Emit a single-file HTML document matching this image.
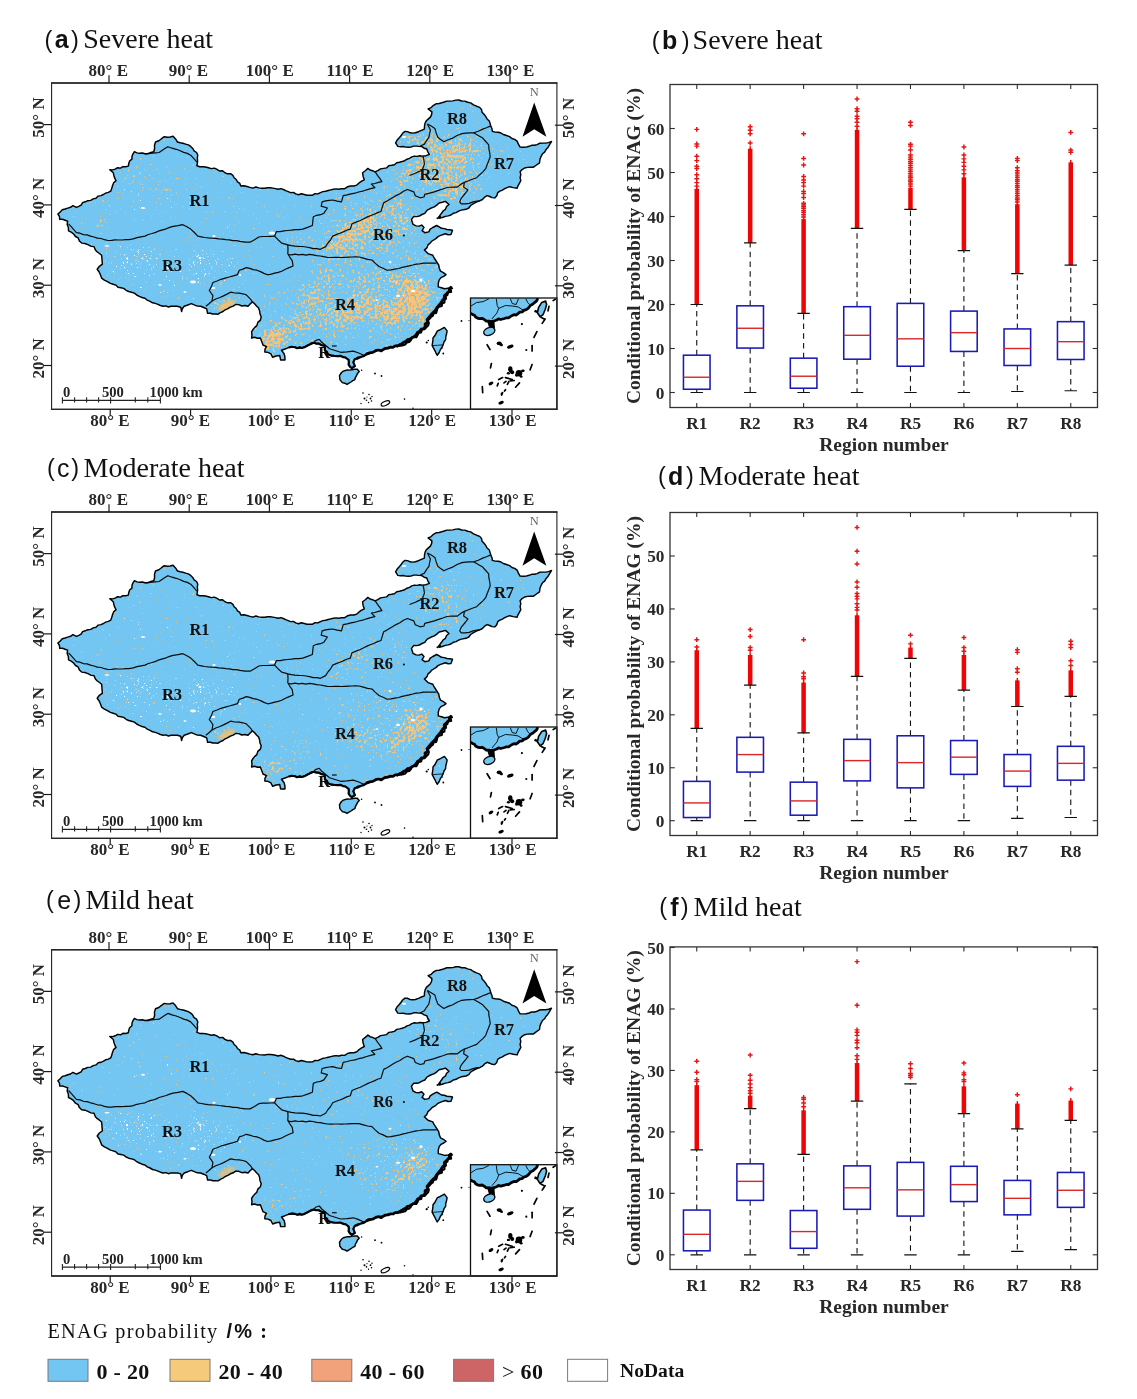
<!DOCTYPE html><html><head><meta charset="utf-8"><title>ENAG probability</title>
<style>html,body{margin:0;padding:0;background:#fff}svg{display:block;will-change:transform}</style></head><body>
<svg width="1137" height="1399" viewBox="0 0 1137 1399">
<defs><clipPath id="mapclip"><rect x="0" y="0" width="590" height="460"/></clipPath>
<clipPath id="insetclip"><rect x="470.5" y="298" width="86" height="111.5"/></clipPath>
<filter id="blur1" x="-30%" y="-30%" width="160%" height="160%"><feGaussianBlur stdDeviation="0.9"/></filter>
<filter id="blur" x="-50%" y="-50%" width="200%" height="200%"><feGaussianBlur stdDeviation="5"/></filter>
<filter id="speck" x="0" y="0" width="100%" height="100%" color-interpolation-filters="sRGB">
<feTurbulence type="fractalNoise" baseFrequency="0.36" numOctaves="3" seed="7" result="n"/>
<feColorMatrix in="n" type="matrix" values="0 0 0 0 1  0 0 0 0 1  0 0 0 0 1  0 0 0 1 0" result="na"/>
<feComposite in="na" in2="SourceGraphic" operator="arithmetic" k1="0" k2="1" k3="0.45" k4="-0.75" result="m"/>
<feComponentTransfer in="m" result="t"><feFuncA type="linear" slope="9" intercept="0"/></feComponentTransfer>
<feFlood flood-color="#f4c67c"/><feComposite in2="t" operator="in"/><feGaussianBlur stdDeviation="0.6"/>
</filter>
<filter id="speck2" x="0" y="0" width="100%" height="100%" color-interpolation-filters="sRGB">
<feTurbulence type="fractalNoise" baseFrequency="0.4" numOctaves="3" seed="23" result="n"/>
<feColorMatrix in="n" type="matrix" values="0 0 0 0 1  0 0 0 0 1  0 0 0 0 1  0 0 0 1 0" result="na"/>
<feComposite in="na" in2="SourceGraphic" operator="arithmetic" k1="0" k2="1" k3="0.30" k4="-0.88" result="m"/>
<feComponentTransfer in="m" result="t"><feFuncA type="linear" slope="9" intercept="0"/></feComponentTransfer>
<feFlood flood-color="#f1a877"/><feComposite in2="t" operator="in"/><feGaussianBlur stdDeviation="0.5"/>
</filter>
<filter id="speckw" x="0" y="0" width="100%" height="100%" color-interpolation-filters="sRGB">
<feTurbulence type="fractalNoise" baseFrequency="0.45" numOctaves="2" seed="41" result="n"/>
<feColorMatrix in="n" type="matrix" values="0 0 0 0 1  0 0 0 0 1  0 0 0 0 1  0 0 0 1 0" result="na"/>
<feComposite in="na" in2="SourceGraphic" operator="arithmetic" k1="0" k2="1" k3="0.4" k4="-0.85" result="m"/>
<feComponentTransfer in="m" result="t"><feFuncA type="linear" slope="9" intercept="0"/></feComponentTransfer>
<feFlood flood-color="#ffffff"/><feComposite in2="t" operator="in"/><feGaussianBlur stdDeviation="0.4"/>
</filter>
<g id="blw" filter="url(#blur)"><ellipse cx="170" cy="272" rx="70" ry="26" fill="#fff" fill-opacity="0.33"/><ellipse cx="130" cy="255" rx="30" ry="15" fill="#fff" fill-opacity="0.3"/><ellipse cx="215" cy="258" rx="30" ry="14" fill="#fff" fill-opacity="0.28"/><ellipse cx="150" cy="200" rx="40" ry="20" fill="#fff" fill-opacity="0.2"/><ellipse cx="400" cy="287" rx="30" ry="25" fill="#fff" fill-opacity="0.28"/><ellipse cx="330" cy="300" rx="40" ry="25" fill="#fff" fill-opacity="0.15"/><ellipse cx="250" cy="215" rx="40" ry="15" fill="#fff" fill-opacity="0.15"/><ellipse cx="440" cy="160" rx="25" ry="20" fill="#fff" fill-opacity="0.12"/></g>
<path id="cnshape" d="M57.9 214.1 L60.2 212.0 L62.3 209.7 L65.1 209.0 L67.8 208.1 L70.5 207.3 L72.9 205.7 L76.4 207.4 L78.8 206.3 L81.1 205.1 L82.6 202.6 L85.2 201.8 L87.8 200.7 L90.7 200.4 L93.2 198.9 L96.0 198.2 L98.2 196.1 L101.0 195.6 L103.4 194.5 L105.7 193.1 L108.3 192.4 L110.7 191.2 L111.7 188.6 L112.4 186.0 L113.6 182.9 L116.0 180.7 L114.7 178.2 L113.9 175.5 L113.3 172.8 L109.8 169.8 L112.6 169.9 L115.2 169.1 L117.6 167.7 L120.5 168.1 L122.9 166.6 L125.7 166.8 L128.3 166.1 L128.8 163.5 L129.6 161.0 L131.9 159.1 L132.0 156.3 L133.0 153.9 L134.4 151.7 L136.9 152.9 L139.6 153.3 L142.4 153.0 L145.0 153.8 L148.1 153.8 L150.9 152.5 L153.8 151.7 L154.6 148.5 L154.5 145.2 L155.5 142.0 L158.8 140.8 L161.5 138.7 L164.3 136.7 L167.3 137.2 L170.2 137.0 L173.1 136.2 L175.5 138.9 L177.5 142.0 L180.2 142.7 L182.9 143.3 L185.6 144.1 L188.3 144.9 L190.7 146.4 L192.7 148.4 L194.1 150.9 L196.6 152.5 L197.8 155.2 L197.3 157.8 L197.6 160.5 L197.4 163.1 L196.9 165.7 L199.7 166.7 L202.7 166.7 L205.6 167.0 L208.4 167.7 L211.3 168.6 L214.3 168.1 L217.1 169.3 L219.5 171.0 L222.6 170.7 L224.9 172.7 L227.4 173.8 L230.5 173.7 L232.9 175.4 L234.1 177.8 L236.2 179.5 L237.5 181.8 L239.8 183.4 L240.8 186.0 L244.0 185.8 L247.0 186.5 L250.0 187.4 L252.9 188.1 L255.9 187.0 L258.8 187.9 L261.7 188.2 L264.7 188.3 L267.6 187.7 L270.3 187.8 L272.9 188.1 L275.5 188.6 L278.1 189.3 L280.8 188.6 L283.4 189.5 L285.7 190.7 L288.2 191.7 L290.6 192.6 L293.5 192.4 L295.7 193.9 L298.5 194.8 L301.4 193.8 L304.2 194.5 L307.0 195.2 L309.8 195.3 L312.6 195.2 L315.0 193.7 L317.9 193.9 L320.4 192.6 L322.9 191.6 L325.6 191.2 L328.2 190.5 L330.8 189.9 L333.4 189.3 L336.1 188.9 L338.9 189.3 L341.5 188.6 L344.7 188.7 L347.5 186.8 L350.6 186.0 L353.8 186.0 L356.8 185.1 L359.1 182.9 L361.6 181.2 L364.3 179.8 L363.1 176.4 L362.6 172.8 L365.3 170.7 L367.9 168.4 L370.0 170.0 L372.6 170.7 L374.9 171.9 L377.8 170.6 L380.5 168.9 L383.7 168.4 L386.6 167.9 L388.7 165.7 L391.6 165.3 L394.4 164.7 L396.7 162.7 L399.5 162.2 L402.1 161.5 L404.7 160.7 L407.0 159.2 L409.5 158.4 L411.8 156.9 L414.4 156.1 L417.1 156.4 L419.7 155.8 L422.4 156.1 L426.0 155.7 L429.4 154.3 L427.8 151.8 L426.8 149.0 L424.1 148.2 L421.8 146.6 L418.9 146.4 L416.2 146.1 L413.5 146.1 L411.0 147.1 L408.3 147.3 L405.7 147.1 L403.1 146.5 L400.4 146.7 L397.8 146.4 L395.6 142.9 L397.0 140.3 L399.0 138.1 L400.9 135.8 L402.6 133.3 L405.0 131.4 L407.6 131.6 L410.1 132.8 L412.7 133.1 L415.4 132.8 L418.5 131.7 L421.4 130.3 L424.4 129.1 L424.5 126.1 L425.1 123.1 L426.4 120.7 L428.4 118.9 L430.4 117.1 L431.6 114.6 L431.9 111.9 L428.1 108.9 L431.2 107.6 L433.5 105.3 L436.4 103.7 L439.1 103.5 L441.7 102.8 L444.3 102.0 L446.8 101.1 L449.8 101.1 L452.8 100.9 L455.8 100.1 L458.8 100.0 L461.7 101.0 L464.8 101.1 L467.7 102.2 L470.7 102.9 L473.5 104.8 L476.6 106.2 L479.7 107.4 L481.5 109.5 L482.1 112.3 L484.0 114.3 L485.7 116.4 L487.1 119.0 L489.3 121.0 L490.2 123.9 L490.9 126.4 L492.0 128.8 L492.4 131.4 L495.1 132.1 L497.9 132.3 L500.6 132.8 L503.4 134.5 L506.5 135.5 L509.6 136.6 L511.9 138.5 L514.7 139.4 L517.1 141.1 L518.4 144.2 L520.1 147.1 L523.1 147.2 L526.1 147.1 L529.1 146.3 L531.6 145.3 L534.4 145.3 L537.1 144.6 L539.5 143.3 L542.5 143.1 L545.6 143.1 L548.6 142.6 L551.5 141.5 L549.6 144.6 L547.7 147.8 L545.9 149.8 L544.6 152.1 L542.5 153.8 L541.0 156.6 L539.9 159.6 L539.5 162.8 L536.5 165.0 L533.5 167.2 L530.5 167.2 L527.5 167.4 L524.6 168.0 L522.1 169.6 L520.1 171.7 L520.8 174.7 L520.1 177.7 L520.8 180.7 L519.5 183.1 L518.1 185.6 L517.1 188.2 L513.3 187.6 L509.6 186.7 L507.1 187.7 L504.7 188.7 L502.4 190.1 L499.9 191.2 L497.7 192.7 L496.8 195.7 L494.7 197.9 L492.1 197.6 L489.7 196.5 L487.2 195.6 L484.6 197.2 L482.4 199.5 L479.7 200.9 L476.3 202.1 L473.1 203.8 L470.6 205.5 L468.8 208.0 L466.0 209.3 L461.3 210.1 L458.6 211.2 L456.1 212.6 L453.3 213.3 L450.9 215.0 L448.2 215.9 L445.4 216.4 L442.3 217.5 L439.1 218.0 L439.9 215.4 L441.5 213.3 L443.1 211.0 L445.4 209.3 L446.6 206.5 L449.0 204.5 L445.4 201.4 L442.3 202.3 L439.1 203.0 L436.8 205.1 L434.3 206.9 L430.7 208.3 L427.2 210.1 L424.8 213.3 L422.0 214.5 L419.3 216.0 L416.6 216.6 L413.8 216.4 L411.4 219.6 L413.0 224.3 L416.1 225.9 L419.0 226.1 L421.7 225.1 L424.0 227.5 L422.1 230.7 L424.8 232.7 L428.8 231.9 L430.2 229.2 L432.8 227.5 L436.7 225.5 L439.2 226.8 L441.5 228.3 L444.3 228.6 L447.0 229.5 L449.8 229.8 L452.5 230.3 L451.0 234.6 L448.1 234.8 L445.4 233.8 L440.7 235.4 L438.0 236.6 L435.9 238.6 L432.0 241.0 L430.1 243.1 L428.0 244.9 L426.8 247.9 L424.4 250.1 L428.0 253.6 L432.8 255.2 L434.0 257.7 L435.5 260.0 L437.0 262.3 L438.7 265.0 L439.3 268.2 L440.5 271.1 L443.4 272.6 L446.0 274.6 L443.7 276.3 L441.0 277.6 L439.2 279.9 L438.3 283.3 L438.3 286.9 L441.4 287.7 L444.4 288.7 L448.1 288.3 L451.5 286.9 L449.6 289.1 L448.1 291.8 L446.2 294.0 L444.9 297.2 L442.5 299.8 L440.9 302.8 L439.1 305.1 L436.8 307.1 L435.6 309.8 L433.3 311.3 L432.0 313.6 L430.5 315.9 L428.6 317.7 L426.9 320.4 L427.0 323.8 L425.1 326.5 L423.3 328.9 L420.6 330.4 L418.4 332.3 L416.3 334.4 L413.9 336.6 L410.9 337.8 L408.0 339.2 L405.7 341.5 L403.1 342.8 L400.5 343.8 L398.0 345.2 L395.2 345.9 L392.3 347.1 L389.0 347.0 L386.3 348.8 L383.2 349.5 L380.3 349.6 L377.7 350.4 L375.1 351.6 L372.5 352.5 L369.3 353.9 L365.9 354.7 L361.3 356.7 L357.9 357.2 L354.9 359.0 L353.3 362.2 L354.9 366.2 L351.8 368.2 L348.6 364.6 L348.6 359.8 L345.4 357.5 L340.7 355.9 L337.5 355.9 L334.3 355.9 L331.1 355.2 L328.0 354.3 L324.8 350.3 L324.8 345.7 L322.0 345.2 L319.5 343.5 L316.5 343.5 L313.8 342.8 L311.5 344.1 L309.0 344.8 L305.5 346.4 L301.9 348.0 L298.4 348.2 L295.0 347.2 L291.7 347.2 L288.5 347.6 L285.0 349.0 L281.5 350.3 L284.1 353.8 L284.9 356.8 L285.0 359.9 L280.6 359.9 L279.7 355.5 L276.1 356.0 L272.7 357.3 L270.9 353.8 L268.0 352.4 L264.8 352.0 L265.0 349.1 L266.5 346.7 L263.0 345.0 L261.7 341.5 L260.4 338.0 L257.5 338.3 L254.5 337.3 L251.6 338.0 L252.0 334.9 L251.6 331.8 L253.0 329.5 L254.8 327.4 L256.8 325.6 L257.8 322.4 L260.4 320.1 L261.2 316.8 L260.0 314.0 L259.6 310.9 L258.6 308.0 L256.5 306.0 L254.6 303.8 L252.4 301.9 L250.1 304.0 L248.0 306.3 L245.0 305.5 L241.8 306.0 L238.8 304.6 L235.7 304.5 L233.2 306.1 L230.4 307.1 L227.9 308.7 L225.2 309.8 L223.0 311.5 L220.4 312.7 L218.1 314.2 L215.5 314.0 L212.8 314.0 L210.3 313.2 L207.6 313.3 L206.7 308.9 L203.7 307.5 L200.6 306.3 L197.3 306.1 L194.3 304.9 L191.3 303.6 L187.8 305.0 L184.2 306.3 L182.3 308.7 L181.6 311.6 L180.7 307.2 L177.3 306.2 L173.7 306.3 L171.0 306.2 L168.4 307.0 L165.8 305.9 L163.1 306.3 L160.4 305.5 L157.9 304.4 L155.3 303.4 L152.6 302.8 L150.0 301.3 L147.3 300.2 L144.9 298.3 L142.0 297.5 L139.3 296.3 L136.7 295.0 L134.4 293.1 L131.5 292.2 L128.7 291.5 L126.1 290.3 L123.7 288.4 L120.9 287.8 L118.0 287.3 L115.8 285.1 L113.1 284.2 L110.4 283.4 L107.4 281.7 L104.4 280.1 L101.6 278.1 L100.5 275.0 L99.2 272.0 L97.2 269.3 L99.4 266.3 L102.4 264.1 L102.1 261.2 L101.9 258.2 L101.6 255.3 L99.5 253.5 L97.3 252.0 L95.4 250.0 L94.0 246.6 L90.8 246.2 L87.9 244.7 L84.9 243.5 L81.7 243.1 L79.4 240.9 L78.1 237.9 L75.5 236.5 L73.6 234.0 L71.2 232.2 L68.5 230.8 L68.4 227.5 L67.2 224.4 L67.6 221.1 L65.0 220.2 L62.5 219.3 L59.7 219.4 L59.5 216.5Z M339.5 375.7 L341.5 372.5 L343.3 371.1 L345.4 370.5 L347.5 369.9 L349.7 370.1 L351.8 369.7 L354.5 369.2 L357.3 369.3 L359.2 371.5 L357.5 373.4 L356.5 375.7 L355.4 377.5 L354.9 379.6 L352.8 380.6 L351.0 382.0 L349.0 383.2 L347.0 384.4 L344.8 383.2 L342.3 382.6 L339.9 379.6Z M437.2 355.2 L435.9 352.8 L434.7 350.3 L433.4 347.9 L432.1 345.5 L432.5 343.0 L432.9 340.5 L433.0 338.0 L434.8 335.8 L436.1 333.3 L437.4 330.9 L439.8 330.0 L442.1 328.6 L444.4 327.4 L447.1 330.9 L446.6 333.8 L445.8 336.7 L445.6 339.7 L444.0 342.0 L443.1 344.7 L442.0 347.2 L440.3 349.8 L439.1 352.7Z"/>
<clipPath id="cn"><use href="#cnshape"/></clipPath>
<g id="cnlines"><g fill="none" stroke="#0a0a0a" stroke-width="1.2" stroke-linejoin="round"><path d="M68.5 223.8 L71.2 226.7 L73.8 229.6 L76.4 232.6 L80.0 233.2 L83.4 234.6 L87.1 234.9 L90.5 236.1 L94.0 237.0 L97.4 238.1 L101.1 238.5 L104.5 239.7 L108.0 240.5 L111.5 240.4 L115.1 239.9 L118.6 240.0 L122.1 240.0 L125.7 239.7 L129.2 239.6 L133.2 238.9 L137.0 237.6 L141.0 236.8 L145.0 236.1 L148.4 234.5 L152.1 233.5 L155.7 232.4 L159.1 230.8 L162.6 229.8 L166.2 228.8 L169.6 227.4 L173.1 226.4 L178.0 225.7 L182.8 224.7 L186.9 226.7 L190.7 229.1 L194.4 232.5 L197.8 236.1 L201.3 236.8 L204.8 237.5 L208.3 237.9 L211.8 238.2 L215.4 238.3 L218.9 238.8 L222.4 239.1 L225.9 239.6 L229.4 239.9 L232.9 240.7 L236.5 240.7 L240.0 241.4 L245.0 242.1 L250.0 242.2 L254.5 239.8 L258.8 237.0 L262.7 236.5 L266.7 236.5 L270.6 236.3 L274.6 236.1"/><path d="M375.4 172.2 L377.5 175.4 L379.8 178.4 L381.9 181.6 L378.4 182.4 L374.9 183.5 L371.4 184.2 L374.9 187.7 L370.7 188.7 L366.6 189.8 L362.6 191.2 L358.7 192.0 L354.9 193.2 L351.0 193.8 L347.1 194.8 L343.2 195.6 L341.5 201.8 L337.1 201.1 L332.7 200.0 L329.1 200.3 L325.6 200.9 L322.1 201.8 L321.2 206.2 L327.4 208.0 L323.9 213.2 L320.5 214.7 L316.8 215.3 L313.3 216.7 L312.8 221.1 L312.4 225.5 L307.6 227.4 L302.8 229.1 L299.0 229.6 L295.2 229.7 L291.5 230.2 L287.7 230.5 L283.9 230.8 L280.2 231.6 L276.4 231.7 L274.6 236.1 L278.0 239.7 L281.7 243.1 L287.8 244.9 L291.4 245.7 L295.0 246.2 L298.7 246.4 L302.3 246.5 L306.0 247.0 L309.6 247.6 L313.1 248.6 L316.8 248.7 L320.4 249.3 L325.6 246.6 L327.9 243.0 L330.6 239.8 L332.7 236.1 L336.2 234.6 L339.8 233.3 L343.2 231.9 L346.7 230.2 L350.3 229.1 L352.0 223.8 L356.1 222.1 L360.3 220.5 L364.3 218.5 L367.5 216.9 L370.9 215.5 L374.3 214.2 L377.5 212.6 L381.0 211.5 L382.3 207.1 L383.7 202.7 L386.9 201.1 L389.9 199.2 L392.9 197.4 L396.0 195.6 L399.9 193.8 L403.5 191.3 L407.4 189.5 L413.8 191.9 L415.3 195.8 L420.1 197.8 L424.0 197.0 L424.8 194.3 L429.6 193.1 L434.3 191.9 L438.5 190.4 L442.8 189.0 L447.0 187.5 L452.1 187.0 L457.3 187.1 L461.3 184.0 L464.4 182.4"/><path d="M473.7 132.8 L478.2 135.4 L482.7 138.1 L485.7 141.5 L488.7 144.8 L488.9 148.8 L489.7 152.8 L490.2 156.8 L488.7 160.8 L487.1 164.7 L485.7 168.7 L482.9 171.9 L479.7 174.7 L476.7 177.7 L472.3 179.3 L468.0 181.0 L464.4 182.4 L463.6 187.1 L468.0 189.9 L465.2 193.5 L461.3 198.2 L459.7 201.8 L461.3 203.8 L465.3 203.8 L469.2 203.4 L473.1 201.9 L477.1 201.0 L479.7 200.9"/><path d="M427.4 123.9 L431.2 126.1 L434.9 128.4 L436.2 132.9 L437.8 137.3 L440.7 139.6 L443.8 141.8 L448.2 139.7 L452.8 138.1 L457.1 135.5 L461.8 133.6 L465.8 133.2 L469.7 132.9 L473.7 132.8 L478.3 131.2 L482.7 129.1 L486.5 127.7 L490.2 126.1"/><path d="M287.8 244.9 L288.0 249.3 L287.8 253.7 L289.9 257.3 L292.2 260.7 L293.1 266.0 L289.2 267.6 L285.4 269.3 L281.7 271.3 L278.2 272.4 L274.7 273.2 L271.2 274.2 L267.6 274.8 L263.9 273.4 L260.5 271.6 L256.8 270.2 L253.2 269.6 L249.8 268.4 L246.3 267.6 L242.9 269.1 L239.3 270.2 L237.5 274.6 L233.4 275.9 L229.3 277.0 L225.2 278.1 L221.0 279.3 L217.0 281.0 L212.9 282.5 L211.4 286.6 L209.3 290.5 L212.9 295.7 L212.0 301.0 L209.0 303.8 L205.8 306.3"/><path d="M212.0 301.0 L215.8 299.0 L219.9 297.5 L223.5 295.9 L227.0 294.1 L230.5 292.2 L234.9 293.0 L239.3 293.1 L242.8 293.8 L246.3 294.9 L250.7 299.3 L252.4 301.9"/><path d="M288.0 254.5 L291.6 254.9 L295.1 254.2 L298.7 254.8 L302.3 254.4 L305.9 255.1 L309.4 254.4 L313.0 254.8 L316.6 255.6 L320.2 256.0 L323.8 256.7 L327.3 257.3 L331.0 257.5 L334.5 257.3 L338.0 257.3 L341.5 257.5 L345.0 257.3 L348.5 257.1 L352.0 257.0 L355.5 256.9 L359.0 257.0 L363.3 258.2 L367.6 259.3 L372.0 260.0 L375.4 263.4 L379.0 266.5 L383.1 268.2 L387.0 270.2 L390.9 269.9 L394.8 269.1 L398.7 268.5 L402.2 267.4 L405.7 266.7 L409.3 265.8 L412.8 265.0 L416.3 264.1 L419.8 263.8 L423.3 263.2 L427.7 263.1 L432.1 263.2 L436.5 263.2"/><path d="M145.0 153.8 L148.5 153.4 L152.0 153.1 L155.6 152.8 L159.1 152.5 L162.0 150.5 L164.9 148.6 L167.9 146.7 L172.0 148.2 L176.2 149.3 L180.2 150.8 L183.7 152.4 L187.3 153.4 L190.7 155.2 L193.9 158.6 L196.9 162.2"/><path d="M427.4 123.9 L430.4 129.9 L429.6 133.6 L428.9 137.3 L426.5 140.6 L424.4 144.1 L419.9 146.3"/><path d="M422.9 156.0 L423.9 160.1 L424.4 164.2 L422.1 170.2 L418.7 171.6 L415.4 173.2 L409.4 175.5"/><path d="M324.8 344.8 L329.6 348.8 L334.3 350.3 L340.7 352.3 L347.0 351.9 L353.3 351.1 L358.1 352.7 L364.4 355.5"/><path d="M313.8 342.8 L315.4 340.6 L319.3 339.3 L321.8 342.3 L324.8 344.8"/><path d="M332.0 346.0 L336.7 346.0"/></g><use href="#cnshape" fill="none" stroke="#000" stroke-width="1.45" stroke-linejoin="round"/><path d="M451.5 286.9 L449.6 288.3 L449.2 290.7 L448.0 292.6 L446.2 294.0 L444.3 295.8 L444.3 298.8 L442.3 300.6 L440.9 302.8 L439.0 305.1 L437.2 307.3 L435.6 309.8 L434.4 312.3 L431.9 313.6 L430.3 315.7 L428.6 317.7 L427.0 319.6 L427.8 322.5 L425.0 323.9 L425.1 326.5 L423.8 328.6 L421.1 329.1 L419.8 331.2 L417.6 332.3 L416.3 334.4 L414.6 336.4 L412.3 337.6 L410.4 339.4 L407.5 339.6 L405.7 341.5 L403.6 342.3 L401.8 343.9 L399.7 344.8 L397.7 345.9 L395.2 345.9 L393.0 347.3 L390.4 347.2 L388.0 348.2 L385.5 348.3 L383.2 349.5 L381.3 351.0 L378.7 350.0 L376.5 350.3 L374.5 351.4 L372.5 352.5 L370.1 352.7 L367.9 353.2 L365.9 354.7" fill="none" stroke="#000" stroke-width="2.7" stroke-linejoin="round"/><path d="M451.5 286.9 L449.4 288.1 L449.9 291.2 L446.4 291.4 L446.2 294.0 L444.5 295.4 L444.7 297.9 L443.2 299.4 L443.2 301.8 L440.9 302.8 L440.5 305.2 L437.9 306.0 L436.2 307.5 L435.6 309.8 L434.9 312.0 L432.3 312.5 L431.7 314.8 L429.9 316.0 L428.6 317.7 L426.7 319.5 L427.6 322.4 L426.9 324.7 L425.1 326.5 L423.5 328.3 L420.6 328.5 L420.0 331.5 L417.3 332.0 L416.3 334.4 L415.1 336.4 L412.3 336.1 L410.4 337.0 L409.5 339.5 L408.0 341.1 L405.7 341.5 L404.1 343.6 L401.9 344.3 L399.7 344.8 L397.2 344.7 L395.2 345.9" fill="none" stroke="#000" stroke-width="2.2" stroke-linejoin="round" transform="translate(1.2,0.8)"/><path d="M365.9 354.7 L363.8 356.2 L361.3 356.7 L359.2 357.7 L357.2 358.7 L354.9 359.0 L353.3 362.2 L354.9 366.2 L351.8 368.2 L349.9 366.7 L348.6 364.6 L348.9 362.2 L348.6 359.8 L345.4 357.5 L342.9 357.2 L340.7 355.9 L337.5 356.1 L334.3 355.9 L331.0 355.6 L328.0 354.3 L327.0 351.8 L324.8 350.3 L324.8 348.0 L324.8 345.7 L322.5 345.4 L320.4 344.7 L318.3 343.5 L315.9 343.6 L313.8 342.8 L311.2 343.3 L309.0 344.8 L306.7 346.0 L304.4 347.3 L301.9 348.0 L299.7 347.1 L297.2 348.2 L295.0 347.2 L291.7 346.7 L288.5 347.6" fill="none" stroke="#000" stroke-width="2.1" stroke-linejoin="round"/></g>
<g id="whites"><ellipse cx="272" cy="233" rx="3.2" ry="1.6" fill="#fff"/><ellipse cx="193" cy="282" rx="3" ry="1.4" fill="#fff"/><ellipse cx="168" cy="268" rx="1.6" ry="1" fill="#fff"/><ellipse cx="107" cy="246" rx="2.6" ry="0.8" fill="#fff"/><ellipse cx="404" cy="137" rx="2.2" ry="1" fill="#fff"/><ellipse cx="214" cy="236" rx="1.6" ry="1" fill="#fff"/><ellipse cx="413" cy="291" rx="2" ry="1.2" fill="#fff"/><ellipse cx="398" cy="296" rx="2.4" ry="1" fill="#fff"/><ellipse cx="421" cy="280" rx="1.6" ry="1.4" fill="#fff"/><ellipse cx="200" cy="258" rx="1.5" ry="1" fill="#fff"/><ellipse cx="143" cy="208" rx="2" ry="1" fill="#fff"/><ellipse cx="213" cy="288" rx="2.5" ry="1" fill="#fff"/><ellipse cx="377" cy="300" rx="1.5" ry="0.8" fill="#fff"/><ellipse cx="390" cy="262" rx="1.5" ry="1" fill="#fff"/><ellipse cx="240" cy="275" rx="1.2" ry="1" fill="#fff"/><ellipse cx="160" cy="285" rx="2" ry="0.8" fill="#fff"/><ellipse cx="185" cy="292" rx="1.6" ry="0.8" fill="#fff"/></g>
<g id="bla" filter="url(#blur)"><ellipse cx="385" cy="285" rx="80" ry="60" transform="rotate(0 385 285)" fill="#fff" fill-opacity="0.209"/><ellipse cx="445" cy="165" rx="45" ry="38" transform="rotate(0 445 165)" fill="#fff" fill-opacity="0.247"/><ellipse cx="365" cy="225" rx="60" ry="30" transform="rotate(-25 365 225)" fill="#fff" fill-opacity="0.228"/><ellipse cx="300" cy="320" rx="50" ry="35" transform="rotate(0 300 320)" fill="#fff" fill-opacity="0.190"/><ellipse cx="140" cy="190" rx="60" ry="30" transform="rotate(0 140 190)" fill="#fff" fill-opacity="0.076"/><ellipse cx="442" cy="166" rx="26" ry="22" transform="rotate(0 442 166)" fill="#fff" fill-opacity="0.494"/><ellipse cx="462" cy="150" rx="16" ry="14" transform="rotate(0 462 150)" fill="#fff" fill-opacity="0.380"/><ellipse cx="405" cy="176" rx="18" ry="8" transform="rotate(-25 405 176)" fill="#fff" fill-opacity="0.475"/><ellipse cx="452" cy="192" rx="14" ry="6" transform="rotate(-20 452 192)" fill="#fff" fill-opacity="0.665"/><ellipse cx="470" cy="186" rx="8" ry="6" transform="rotate(0 470 186)" fill="#fff" fill-opacity="0.427"/><ellipse cx="360" cy="226" rx="26" ry="9" transform="rotate(-28 360 226)" fill="#fff" fill-opacity="0.665"/><ellipse cx="338" cy="242" rx="16" ry="7" transform="rotate(-25 338 242)" fill="#fff" fill-opacity="0.570"/><ellipse cx="392" cy="207" rx="14" ry="8" transform="rotate(-30 392 207)" fill="#fff" fill-opacity="0.427"/><ellipse cx="404" cy="222" rx="10" ry="7" transform="rotate(0 404 222)" fill="#fff" fill-opacity="0.617"/><ellipse cx="348" cy="248" rx="14" ry="5" transform="rotate(0 348 248)" fill="#fff" fill-opacity="0.380"/><ellipse cx="416" cy="296" rx="15" ry="16" transform="rotate(0 416 296)" fill="#fff" fill-opacity="0.950"/><ellipse cx="396" cy="312" rx="18" ry="12" transform="rotate(-20 396 312)" fill="#fff" fill-opacity="0.760"/><ellipse cx="366" cy="306" rx="22" ry="14" transform="rotate(0 366 306)" fill="#fff" fill-opacity="0.570"/><ellipse cx="340" cy="318" rx="22" ry="10" transform="rotate(0 340 318)" fill="#fff" fill-opacity="0.475"/><ellipse cx="420" cy="318" rx="8" ry="10" transform="rotate(0 420 318)" fill="#fff" fill-opacity="0.570"/><ellipse cx="275" cy="338" rx="12" ry="12" transform="rotate(0 275 338)" fill="#fff" fill-opacity="0.902"/><ellipse cx="262" cy="345" rx="6" ry="6" transform="rotate(0 262 345)" fill="#fff" fill-opacity="0.855"/><ellipse cx="300" cy="322" rx="16" ry="10" transform="rotate(0 300 322)" fill="#fff" fill-opacity="0.522"/><ellipse cx="312" cy="300" rx="14" ry="12" transform="rotate(0 312 300)" fill="#fff" fill-opacity="0.380"/><ellipse cx="400" cy="280" rx="12" ry="10" transform="rotate(0 400 280)" fill="#fff" fill-opacity="0.475"/><ellipse cx="224" cy="305" rx="12" ry="5" transform="rotate(-25 224 305)" fill="#fff" fill-opacity="0.950"/><ellipse cx="370" cy="280" rx="20" ry="10" transform="rotate(0 370 280)" fill="#fff" fill-opacity="0.332"/><ellipse cx="330" cy="280" rx="16" ry="10" transform="rotate(0 330 280)" fill="#fff" fill-opacity="0.285"/><ellipse cx="430" cy="140" rx="12" ry="10" transform="rotate(0 430 140)" fill="#fff" fill-opacity="0.427"/><ellipse cx="410" cy="140" rx="10" ry="5" transform="rotate(-20 410 140)" fill="#fff" fill-opacity="0.570"/><ellipse cx="102" cy="222" rx="5" ry="7" transform="rotate(0 102 222)" fill="#fff" fill-opacity="0.475"/><ellipse cx="130" cy="182" rx="12" ry="8" transform="rotate(0 130 182)" fill="#fff" fill-opacity="0.237"/><ellipse cx="160" cy="190" rx="14" ry="10" transform="rotate(0 160 190)" fill="#fff" fill-opacity="0.190"/><ellipse cx="120" cy="160" rx="8" ry="5" transform="rotate(0 120 160)" fill="#fff" fill-opacity="0.285"/><ellipse cx="300" cy="240" rx="16" ry="5" transform="rotate(0 300 240)" fill="#fff" fill-opacity="0.285"/><ellipse cx="420" cy="262" rx="10" ry="6" transform="rotate(0 420 262)" fill="#fff" fill-opacity="0.380"/><ellipse cx="385" cy="240" rx="14" ry="8" transform="rotate(0 385 240)" fill="#fff" fill-opacity="0.332"/><ellipse cx="500" cy="150" rx="14" ry="10" transform="rotate(0 500 150)" fill="#fff" fill-opacity="0.190"/><ellipse cx="455" cy="120" rx="14" ry="8" transform="rotate(0 455 120)" fill="#fff" fill-opacity="0.190"/></g>
<g id="blc" filter="url(#blur)"><ellipse cx="390" cy="295" rx="60" ry="40" transform="rotate(0 390 295)" fill="#fff" fill-opacity="0.209"/><ellipse cx="445" cy="168" rx="35" ry="28" transform="rotate(0 445 168)" fill="#fff" fill-opacity="0.142"/><ellipse cx="365" cy="228" rx="45" ry="18" transform="rotate(-25 365 228)" fill="#fff" fill-opacity="0.142"/><ellipse cx="290" cy="325" rx="35" ry="25" transform="rotate(0 290 325)" fill="#fff" fill-opacity="0.114"/><ellipse cx="416" cy="296" rx="13" ry="13" transform="rotate(0 416 296)" fill="#fff" fill-opacity="0.760"/><ellipse cx="398" cy="312" rx="15" ry="9" transform="rotate(-20 398 312)" fill="#fff" fill-opacity="0.522"/><ellipse cx="366" cy="308" rx="16" ry="9" transform="rotate(0 366 308)" fill="#fff" fill-opacity="0.332"/><ellipse cx="275" cy="338" rx="9" ry="9" transform="rotate(0 275 338)" fill="#fff" fill-opacity="0.570"/><ellipse cx="262" cy="345" rx="5" ry="5" transform="rotate(0 262 345)" fill="#fff" fill-opacity="0.570"/><ellipse cx="224" cy="305" rx="10" ry="4" transform="rotate(-25 224 305)" fill="#fff" fill-opacity="0.855"/><ellipse cx="445" cy="168" rx="16" ry="12" transform="rotate(0 445 168)" fill="#fff" fill-opacity="0.332"/><ellipse cx="452" cy="192" rx="10" ry="4" transform="rotate(-20 452 192)" fill="#fff" fill-opacity="0.427"/><ellipse cx="358" cy="228" rx="16" ry="6" transform="rotate(-28 358 228)" fill="#fff" fill-opacity="0.380"/><ellipse cx="404" cy="222" rx="7" ry="5" transform="rotate(0 404 222)" fill="#fff" fill-opacity="0.380"/><ellipse cx="340" cy="243" rx="10" ry="4" transform="rotate(-25 340 243)" fill="#fff" fill-opacity="0.285"/><ellipse cx="300" cy="322" rx="10" ry="6" transform="rotate(0 300 322)" fill="#fff" fill-opacity="0.285"/><ellipse cx="406" cy="176" rx="10" ry="5" transform="rotate(-25 406 176)" fill="#fff" fill-opacity="0.237"/><ellipse cx="102" cy="222" rx="3" ry="5" transform="rotate(0 102 222)" fill="#fff" fill-opacity="0.285"/><ellipse cx="388" cy="238" rx="8" ry="5" transform="rotate(0 388 238)" fill="#fff" fill-opacity="0.190"/></g>
<g id="ble" filter="url(#blur)"><ellipse cx="395" cy="298" rx="50" ry="32" transform="rotate(0 395 298)" fill="#fff" fill-opacity="0.171"/><ellipse cx="445" cy="170" rx="30" ry="22" transform="rotate(0 445 170)" fill="#fff" fill-opacity="0.076"/><ellipse cx="365" cy="230" rx="40" ry="14" transform="rotate(-25 365 230)" fill="#fff" fill-opacity="0.076"/><ellipse cx="285" cy="330" rx="30" ry="20" transform="rotate(0 285 330)" fill="#fff" fill-opacity="0.076"/><ellipse cx="416" cy="296" rx="12" ry="11" transform="rotate(0 416 296)" fill="#fff" fill-opacity="0.570"/><ellipse cx="400" cy="312" rx="14" ry="8" transform="rotate(-20 400 312)" fill="#fff" fill-opacity="0.380"/><ellipse cx="366" cy="310" rx="12" ry="7" transform="rotate(0 366 310)" fill="#fff" fill-opacity="0.190"/><ellipse cx="275" cy="338" rx="7" ry="7" transform="rotate(0 275 338)" fill="#fff" fill-opacity="0.332"/><ellipse cx="224" cy="305" rx="9" ry="4" transform="rotate(-25 224 305)" fill="#fff" fill-opacity="0.760"/><ellipse cx="448" cy="170" rx="12" ry="9" transform="rotate(0 448 170)" fill="#fff" fill-opacity="0.190"/><ellipse cx="452" cy="192" rx="8" ry="3" transform="rotate(-20 452 192)" fill="#fff" fill-opacity="0.285"/><ellipse cx="360" cy="228" rx="12" ry="5" transform="rotate(-28 360 228)" fill="#fff" fill-opacity="0.190"/><ellipse cx="270" cy="345" rx="5" ry="5" transform="rotate(0 270 345)" fill="#fff" fill-opacity="0.285"/><ellipse cx="300" cy="324" rx="8" ry="5" transform="rotate(0 300 324)" fill="#fff" fill-opacity="0.190"/></g></defs>
<rect width="1137" height="1399" fill="#fff"/>
<g transform="translate(0,0)" clip-path="url(#mapclip)">
<text x="324.3" y="357.6" font-family='"Liberation Serif", serif' font-weight="bold" font-size="16.5" fill="#111" text-anchor="middle">R</text>
<use href="#cnshape" fill="#72c6f1"/>
<g clip-path="url(#cn)">
<g filter="url(#speck)"><rect x="40" y="90" width="530" height="310" fill="#fff" fill-opacity="0.02"/><use href="#bla"/></g>
<g filter="url(#speck2)"><rect x="40" y="90" width="530" height="310" fill="#fff" fill-opacity="0.02"/><use href="#bla"/></g>
<ellipse cx="226.5" cy="305.3" rx="9.5" ry="3.3" transform="rotate(-27 226.5 305.3)" fill="#f2c06e" opacity="0.95" filter="url(#blur1)"/>
<g filter="url(#speckw)"><rect x="40" y="90" width="530" height="310" fill="#fff" fill-opacity="0.02"/><use href="#blw"/></g>
<use href="#whites"/>
</g>
<use href="#cnlines"/>
<g fill="#000"><circle cx="403.9" cy="235.4" r="1"/><circle cx="439.6" cy="217.2" r="1.6"/><circle cx="437.5" cy="218.2" r="1"/><circle cx="375" cy="373.5" r="0.9"/><circle cx="381.5" cy="376" r="0.9"/><circle cx="404.5" cy="399.1" r="0.8"/><circle cx="413" cy="408.3" r="0.8"/><circle cx="443.3" cy="353.5" r="0.9"/><circle cx="442.6" cy="348" r="0.6"/><circle cx="426.7" cy="342.5" r="1.1"/><circle cx="428.3" cy="340.5" r="0.8"/><circle cx="461.5" cy="321" r="0.9"/><circle cx="469" cy="320.6" r="0.6"/><circle cx="361.6" cy="370.3" r="0.8"/><circle cx="363" cy="393" r="0.8"/><circle cx="369" cy="394.5" r="0.8"/><circle cx="364.5" cy="398.5" r="1"/><circle cx="366.5" cy="400.2" r="0.8"/><circle cx="370.5" cy="398.5" r="0.9"/><circle cx="372" cy="396.5" r="0.7"/><circle cx="368.5" cy="402.5" r="0.7"/><circle cx="361" cy="403.5" r="0.7"/><circle cx="371.5" cy="401" r="0.8"/><circle cx="367" cy="397" r="0.6"/></g>
<ellipse cx="385.4" cy="403.4" rx="4.6" ry="2" transform="rotate(-24 385.4 403.4)" fill="#fff" stroke="#000" stroke-width="1.2"/>
<path d="M432.6 345.6L444 344.8" stroke="#000" stroke-width="0.8" fill="none"/>
<g clip-path="url(#insetclip)">
<path d="M469.7 297.7 L537.4 297.7 L534.5 302.6 L529.7 306.4 L523.9 310.3 L518.0 313.7 L510.3 316.6 L502.6 319.0 L496.8 320.0 L493.4 321.2 L489.0 321.2 L484.2 319.5 L477.4 318.1 L474.5 315.2 L469.7 312.7Z" fill="#72c6f1"/>
<g fill="none" stroke="#000" stroke-width="0.9">
<path d="M496.3 298.7 L497.2 305.5 L498.7 308.4 L496.8 313.2 L491.9 319.0"/>
<path d="M498.7 308.4 L505.5 305.5 L512.2 306.0 L518.0 306.9 L521.9 309.3 L524.3 310.1"/>
<path d="M510.3 298.7 L512.2 303.5 L516.1 304.5 L518.5 298.7"/>
<path d="M470.4 306.4 L476.4 302.6 L483.2 301.6 L489.0 298.7"/>
<path d="M525.8 298.7 L527.7 302.6 L530.6 305.5"/>
</g>
<path d="M537.4 297.7 L537.2 299.8 L536.1 301.3 L534.5 302.6 L533.0 304.0 L531.1 304.9 L529.7 306.4 L528.1 308.3 L526.2 309.6 L523.9 310.3 L522.2 311.9 L519.8 312.2 L518.0 313.7 L516.3 315.0 L514.0 314.7 L512.1 315.6 L510.3 316.6 L508.6 317.8 L506.4 317.8 L504.5 318.5 L502.6 319.0 L500.7 319.5 L498.6 318.8 L496.8 320.0 L493.4 321.2 L491.2 321.9 L489.0 321.2 L486.3 321.1 L484.2 319.5 L482.1 318.3 L479.6 318.7 L477.4 318.1 L475.6 317.0 L474.5 315.2 L472.8 314.6 L471.2 313.8 L469.7 312.7" fill="none" stroke="#000" stroke-width="2.8" stroke-linejoin="round"/>
<path d="M488.1 321.0 L493.4 321.0 L493.9 327.2 L490.0 327.2Z" fill="#000" stroke="#000" stroke-width="2"/>
<ellipse cx="489.3" cy="331.4" rx="5.8" ry="3.7" transform="rotate(-22 489.3 331.4)" fill="#72c6f1" stroke="#000" stroke-width="1.4"/>
<path d="M545.6 301.1 L541.8 302.4 L538.6 307.4 L537.4 312.7 L540.1 316.9 L543.0 314.7 L545.3 309.3 L546.6 304.5Z" fill="#72c6f1" stroke="#000" stroke-width="1.6" stroke-linejoin="round"/>
<path d="M534.5 310.8 L537.4 311.8" fill="none" stroke="#000" stroke-width="2.4"/>
<g stroke="#000" stroke-width="1.7" stroke-linecap="round">
<line x1="549.0" y1="306.4" x2="548.0" y2="310.8"/>
<line x1="555.3" y1="299.2" x2="553.1" y2="300.6"/>
<line x1="545.1" y1="319.0" x2="542.2" y2="323.4"/>
<line x1="536.9" y1="331.6" x2="534.0" y2="337.4"/>
<line x1="532.1" y1="345.6" x2="532.1" y2="351.0"/>
<line x1="532.1" y1="364.5" x2="530.1" y2="369.8"/>
<line x1="519.5" y1="382.9" x2="515.6" y2="387.2"/>
<line x1="482.3" y1="386.7" x2="482.7" y2="392.6"/>
<line x1="491.4" y1="363.5" x2="490.5" y2="367.9"/>
<line x1="487.1" y1="344.7" x2="490.0" y2="349.5"/>
<line x1="541.3" y1="317.6" x2="544.2" y2="319.0"/>
<line x1="502.6" y1="392.6" x2="501.6" y2="395.0"/>
<line x1="505.5" y1="389.7" x2="504.5" y2="391.1"/>
<line x1="507.4" y1="384.3" x2="508.9" y2="381.4"/>
<line x1="505.5" y1="377.6" x2="512.2" y2="379.5"/>
<line x1="498.7" y1="379.5" x2="502.6" y2="377.6"/>
<line x1="504.0" y1="382.9" x2="506.0" y2="381.4"/>
<line x1="497.2" y1="385.8" x2="498.2" y2="383.4"/>
<line x1="510.3" y1="380.9" x2="514.2" y2="380.5"/>
</g>
<ellipse cx="510.3" cy="346.6" rx="3.4" ry="1.7" transform="rotate(-20 510.3 346.6)" fill="#000"/>
<ellipse cx="499.2" cy="343.4" rx="2.6" ry="1.8" transform="rotate(0 499.2 343.4)" fill="#000"/>
<ellipse cx="501.1" cy="344.7" rx="2" ry="1.4" transform="rotate(30 501.1 344.7)" fill="#000"/>
<ellipse cx="521.9" cy="324.1" rx="1.1" ry="1.1" transform="rotate(0 521.9 324.1)" fill="#000"/>
<ellipse cx="526.3" cy="350.0" rx="1.1" ry="1.1" transform="rotate(0 526.3 350.0)" fill="#000"/>
<ellipse cx="510.3" cy="369.3" rx="2.2" ry="3" transform="rotate(0 510.3 369.3)" fill="#000"/>
<ellipse cx="512.2" cy="372.2" rx="2" ry="2" transform="rotate(0 512.2 372.2)" fill="#000"/>
<ellipse cx="519.0" cy="373.2" rx="3.3" ry="3.3" transform="rotate(0 519.0 373.2)" fill="#000"/>
<ellipse cx="522.9" cy="370.8" rx="1.8" ry="1.4" transform="rotate(0 522.9 370.8)" fill="#000"/>
<ellipse cx="491.0" cy="383.4" rx="2.6" ry="1.6" transform="rotate(-30 491.0 383.4)" fill="#000"/>
<ellipse cx="501.1" cy="402.7" rx="2.8" ry="1.6" transform="rotate(-20 501.1 402.7)" fill="#000"/>
<ellipse cx="508.4" cy="373.2" rx="1.6" ry="1.2" transform="rotate(0 508.4 373.2)" fill="#000"/>
<ellipse cx="501.6" cy="394.0" rx="1" ry="1.4" transform="rotate(0 501.6 394.0)" fill="#000"/>
<ellipse cx="516.6" cy="375.1" rx="1.6" ry="1.6" transform="rotate(0 516.6 375.1)" fill="#000"/>
<ellipse cx="521.1" cy="376.6" rx="1.5" ry="1.2" transform="rotate(0 521.1 376.6)" fill="#000"/>
</g>
<rect x="470.5" y="298" width="86.4" height="111.3" fill="none" stroke="#111" stroke-width="1.3"/>
<rect x="51.6" y="83" width="505.3" height="326.3" fill="none" stroke="#222" stroke-width="1.1"/>
<path d="M51.1 83H557.4M51.1 409.3H557.4" fill="none" stroke="#262626" stroke-width="1.35"/>
<g stroke="#1a1a1a" stroke-width="1.2">
<line x1="109" y1="75.2" x2="109" y2="83"/>
<line x1="110.2" y1="409.3" x2="110.2" y2="415.5"/>
<line x1="189.2" y1="75.2" x2="189.2" y2="83"/>
<line x1="190.56" y1="409.3" x2="190.56" y2="415.5"/>
<line x1="269.4" y1="75.2" x2="269.4" y2="83"/>
<line x1="270.92" y1="409.3" x2="270.92" y2="415.5"/>
<line x1="349.6" y1="75.2" x2="349.6" y2="83"/>
<line x1="351.28" y1="409.3" x2="351.28" y2="415.5"/>
<line x1="429.8" y1="75.2" x2="429.8" y2="83"/>
<line x1="431.64" y1="409.3" x2="431.64" y2="415.5"/>
<line x1="510" y1="75.2" x2="510" y2="83"/>
<line x1="512" y1="409.3" x2="512" y2="415.5"/>
<line x1="43.6" y1="124.6" x2="51.6" y2="124.6"/>
<line x1="554.9" y1="125.2" x2="563.9" y2="125.2"/>
<line x1="43.6" y1="204.9" x2="51.6" y2="204.9"/>
<line x1="554.9" y1="205.5" x2="563.9" y2="205.5"/>
<line x1="43.6" y1="285.2" x2="51.6" y2="285.2"/>
<line x1="554.9" y1="285.8" x2="563.9" y2="285.8"/>
<line x1="43.6" y1="365.5" x2="51.6" y2="365.5"/>
<line x1="554.9" y1="366.1" x2="563.9" y2="366.1"/>
</g>
<g font-family='"Liberation Serif", serif' font-weight="bold" font-size="17" fill="#282828" text-anchor="middle">
<text x="108.3" y="76.3">80° E</text>
<text x="110" y="426.4">80° E</text>
<text x="188.5" y="76.3">90° E</text>
<text x="190.36" y="426.4">90° E</text>
<text x="269.8" y="76.3">100° E</text>
<text x="271.52" y="426.4">100° E</text>
<text x="350" y="76.3">110° E</text>
<text x="351.88" y="426.4">110° E</text>
<text x="430.2" y="76.3">120° E</text>
<text x="432.24" y="426.4">120° E</text>
<text x="510.4" y="76.3">130° E</text>
<text x="512.6" y="426.4">130° E</text>
<text transform="translate(44.1,117.5) rotate(-90)">50° N</text>
<text transform="translate(574,118) rotate(-90)">50° N</text>
<text transform="translate(44.1,197.8) rotate(-90)">40° N</text>
<text transform="translate(574,198.3) rotate(-90)">40° N</text>
<text transform="translate(44.1,278.1) rotate(-90)">30° N</text>
<text transform="translate(574,278.6) rotate(-90)">30° N</text>
<text transform="translate(44.1,358.4) rotate(-90)">20° N</text>
<text transform="translate(574,358.9) rotate(-90)">20° N</text>
</g>
<g font-family='"Liberation Serif", serif' font-weight="bold" font-size="16.5" fill="#111" text-anchor="middle">
<text x="199.5" y="205.5">R1</text>
<text x="429.5" y="179.5">R2</text>
<text x="172" y="270.5">R3</text>
<text x="345" y="309.5">R4</text>
<text x="383" y="240">R6</text>
<text x="504" y="168.5">R7</text>
<text x="457" y="124">R8</text>
</g>
<g stroke="#222" stroke-width="1.1" fill="none"><path d="M62.4 400.4H160.4"/>
<line x1="62.4" y1="397.3" x2="62.4" y2="403.4"/>
<line x1="74.6" y1="397.3" x2="74.6" y2="402.6"/>
<line x1="86.6" y1="397.3" x2="86.6" y2="402.6"/>
<line x1="98.6" y1="397.3" x2="98.6" y2="402.6"/>
<line x1="110.6" y1="397.3" x2="110.6" y2="403.4"/>
<line x1="135.3" y1="397.3" x2="135.3" y2="402.6"/>
<line x1="147.8" y1="397.3" x2="147.8" y2="402.6"/>
<line x1="160.4" y1="397.3" x2="160.4" y2="403.4"/>
</g>
<g font-family='"Liberation Serif", serif' font-weight="bold" font-size="14.6" fill="#222">
<text x="66.6" y="397.2" text-anchor="middle">0</text><text x="112.9" y="397.2" text-anchor="middle">500</text><text x="149.6" y="397.2">1000 km</text></g>
<path d="M534.2 102.6 L546.4 136.8 L534.2 129.2 L522.5 136.8Z" fill="#000"/>
<text x="534.3" y="95.6" font-family='"Liberation Serif", serif' font-size="12.5" fill="#666" text-anchor="middle">N</text>
</g>
<g transform="translate(0,429)" clip-path="url(#mapclip)">
<text x="324.3" y="357.6" font-family='"Liberation Serif", serif' font-weight="bold" font-size="16.5" fill="#111" text-anchor="middle">R</text>
<use href="#cnshape" fill="#72c6f1"/>
<g clip-path="url(#cn)">
<g filter="url(#speck)"><rect x="40" y="90" width="530" height="310" fill="#fff" fill-opacity="0.02"/><use href="#blc"/></g>
<g filter="url(#speck2)"><rect x="40" y="90" width="530" height="310" fill="#fff" fill-opacity="0.02"/><use href="#blc"/></g>
<ellipse cx="226.5" cy="305.3" rx="9.5" ry="3.3" transform="rotate(-27 226.5 305.3)" fill="#f2c06e" opacity="0.85" filter="url(#blur1)"/>
<g filter="url(#speckw)"><rect x="40" y="90" width="530" height="310" fill="#fff" fill-opacity="0.02"/><use href="#blw"/></g>
<use href="#whites"/>
</g>
<use href="#cnlines"/>
<g fill="#000"><circle cx="403.9" cy="235.4" r="1"/><circle cx="439.6" cy="217.2" r="1.6"/><circle cx="437.5" cy="218.2" r="1"/><circle cx="375" cy="373.5" r="0.9"/><circle cx="381.5" cy="376" r="0.9"/><circle cx="404.5" cy="399.1" r="0.8"/><circle cx="413" cy="408.3" r="0.8"/><circle cx="443.3" cy="353.5" r="0.9"/><circle cx="442.6" cy="348" r="0.6"/><circle cx="426.7" cy="342.5" r="1.1"/><circle cx="428.3" cy="340.5" r="0.8"/><circle cx="461.5" cy="321" r="0.9"/><circle cx="469" cy="320.6" r="0.6"/><circle cx="361.6" cy="370.3" r="0.8"/><circle cx="363" cy="393" r="0.8"/><circle cx="369" cy="394.5" r="0.8"/><circle cx="364.5" cy="398.5" r="1"/><circle cx="366.5" cy="400.2" r="0.8"/><circle cx="370.5" cy="398.5" r="0.9"/><circle cx="372" cy="396.5" r="0.7"/><circle cx="368.5" cy="402.5" r="0.7"/><circle cx="361" cy="403.5" r="0.7"/><circle cx="371.5" cy="401" r="0.8"/><circle cx="367" cy="397" r="0.6"/></g>
<ellipse cx="385.4" cy="403.4" rx="4.6" ry="2" transform="rotate(-24 385.4 403.4)" fill="#fff" stroke="#000" stroke-width="1.2"/>
<path d="M432.6 345.6L444 344.8" stroke="#000" stroke-width="0.8" fill="none"/>
<g clip-path="url(#insetclip)">
<path d="M469.7 297.7 L537.4 297.7 L534.5 302.6 L529.7 306.4 L523.9 310.3 L518.0 313.7 L510.3 316.6 L502.6 319.0 L496.8 320.0 L493.4 321.2 L489.0 321.2 L484.2 319.5 L477.4 318.1 L474.5 315.2 L469.7 312.7Z" fill="#72c6f1"/>
<g fill="none" stroke="#000" stroke-width="0.9">
<path d="M496.3 298.7 L497.2 305.5 L498.7 308.4 L496.8 313.2 L491.9 319.0"/>
<path d="M498.7 308.4 L505.5 305.5 L512.2 306.0 L518.0 306.9 L521.9 309.3 L524.3 310.1"/>
<path d="M510.3 298.7 L512.2 303.5 L516.1 304.5 L518.5 298.7"/>
<path d="M470.4 306.4 L476.4 302.6 L483.2 301.6 L489.0 298.7"/>
<path d="M525.8 298.7 L527.7 302.6 L530.6 305.5"/>
</g>
<path d="M537.4 297.7 L537.2 299.8 L536.1 301.3 L534.5 302.6 L533.0 304.0 L531.1 304.9 L529.7 306.4 L528.1 308.3 L526.2 309.6 L523.9 310.3 L522.2 311.9 L519.8 312.2 L518.0 313.7 L516.3 315.0 L514.0 314.7 L512.1 315.6 L510.3 316.6 L508.6 317.8 L506.4 317.8 L504.5 318.5 L502.6 319.0 L500.7 319.5 L498.6 318.8 L496.8 320.0 L493.4 321.2 L491.2 321.9 L489.0 321.2 L486.3 321.1 L484.2 319.5 L482.1 318.3 L479.6 318.7 L477.4 318.1 L475.6 317.0 L474.5 315.2 L472.8 314.6 L471.2 313.8 L469.7 312.7" fill="none" stroke="#000" stroke-width="2.8" stroke-linejoin="round"/>
<path d="M488.1 321.0 L493.4 321.0 L493.9 327.2 L490.0 327.2Z" fill="#000" stroke="#000" stroke-width="2"/>
<ellipse cx="489.3" cy="331.4" rx="5.8" ry="3.7" transform="rotate(-22 489.3 331.4)" fill="#72c6f1" stroke="#000" stroke-width="1.4"/>
<path d="M545.6 301.1 L541.8 302.4 L538.6 307.4 L537.4 312.7 L540.1 316.9 L543.0 314.7 L545.3 309.3 L546.6 304.5Z" fill="#72c6f1" stroke="#000" stroke-width="1.6" stroke-linejoin="round"/>
<path d="M534.5 310.8 L537.4 311.8" fill="none" stroke="#000" stroke-width="2.4"/>
<g stroke="#000" stroke-width="1.7" stroke-linecap="round">
<line x1="549.0" y1="306.4" x2="548.0" y2="310.8"/>
<line x1="555.3" y1="299.2" x2="553.1" y2="300.6"/>
<line x1="545.1" y1="319.0" x2="542.2" y2="323.4"/>
<line x1="536.9" y1="331.6" x2="534.0" y2="337.4"/>
<line x1="532.1" y1="345.6" x2="532.1" y2="351.0"/>
<line x1="532.1" y1="364.5" x2="530.1" y2="369.8"/>
<line x1="519.5" y1="382.9" x2="515.6" y2="387.2"/>
<line x1="482.3" y1="386.7" x2="482.7" y2="392.6"/>
<line x1="491.4" y1="363.5" x2="490.5" y2="367.9"/>
<line x1="487.1" y1="344.7" x2="490.0" y2="349.5"/>
<line x1="541.3" y1="317.6" x2="544.2" y2="319.0"/>
<line x1="502.6" y1="392.6" x2="501.6" y2="395.0"/>
<line x1="505.5" y1="389.7" x2="504.5" y2="391.1"/>
<line x1="507.4" y1="384.3" x2="508.9" y2="381.4"/>
<line x1="505.5" y1="377.6" x2="512.2" y2="379.5"/>
<line x1="498.7" y1="379.5" x2="502.6" y2="377.6"/>
<line x1="504.0" y1="382.9" x2="506.0" y2="381.4"/>
<line x1="497.2" y1="385.8" x2="498.2" y2="383.4"/>
<line x1="510.3" y1="380.9" x2="514.2" y2="380.5"/>
</g>
<ellipse cx="510.3" cy="346.6" rx="3.4" ry="1.7" transform="rotate(-20 510.3 346.6)" fill="#000"/>
<ellipse cx="499.2" cy="343.4" rx="2.6" ry="1.8" transform="rotate(0 499.2 343.4)" fill="#000"/>
<ellipse cx="501.1" cy="344.7" rx="2" ry="1.4" transform="rotate(30 501.1 344.7)" fill="#000"/>
<ellipse cx="521.9" cy="324.1" rx="1.1" ry="1.1" transform="rotate(0 521.9 324.1)" fill="#000"/>
<ellipse cx="526.3" cy="350.0" rx="1.1" ry="1.1" transform="rotate(0 526.3 350.0)" fill="#000"/>
<ellipse cx="510.3" cy="369.3" rx="2.2" ry="3" transform="rotate(0 510.3 369.3)" fill="#000"/>
<ellipse cx="512.2" cy="372.2" rx="2" ry="2" transform="rotate(0 512.2 372.2)" fill="#000"/>
<ellipse cx="519.0" cy="373.2" rx="3.3" ry="3.3" transform="rotate(0 519.0 373.2)" fill="#000"/>
<ellipse cx="522.9" cy="370.8" rx="1.8" ry="1.4" transform="rotate(0 522.9 370.8)" fill="#000"/>
<ellipse cx="491.0" cy="383.4" rx="2.6" ry="1.6" transform="rotate(-30 491.0 383.4)" fill="#000"/>
<ellipse cx="501.1" cy="402.7" rx="2.8" ry="1.6" transform="rotate(-20 501.1 402.7)" fill="#000"/>
<ellipse cx="508.4" cy="373.2" rx="1.6" ry="1.2" transform="rotate(0 508.4 373.2)" fill="#000"/>
<ellipse cx="501.6" cy="394.0" rx="1" ry="1.4" transform="rotate(0 501.6 394.0)" fill="#000"/>
<ellipse cx="516.6" cy="375.1" rx="1.6" ry="1.6" transform="rotate(0 516.6 375.1)" fill="#000"/>
<ellipse cx="521.1" cy="376.6" rx="1.5" ry="1.2" transform="rotate(0 521.1 376.6)" fill="#000"/>
</g>
<rect x="470.5" y="298" width="86.4" height="111.3" fill="none" stroke="#111" stroke-width="1.3"/>
<rect x="51.6" y="83" width="505.3" height="326.3" fill="none" stroke="#222" stroke-width="1.1"/>
<path d="M51.1 83H557.4M51.1 409.3H557.4" fill="none" stroke="#262626" stroke-width="1.35"/>
<g stroke="#1a1a1a" stroke-width="1.2">
<line x1="109" y1="75.2" x2="109" y2="83"/>
<line x1="110.2" y1="409.3" x2="110.2" y2="415.5"/>
<line x1="189.2" y1="75.2" x2="189.2" y2="83"/>
<line x1="190.56" y1="409.3" x2="190.56" y2="415.5"/>
<line x1="269.4" y1="75.2" x2="269.4" y2="83"/>
<line x1="270.92" y1="409.3" x2="270.92" y2="415.5"/>
<line x1="349.6" y1="75.2" x2="349.6" y2="83"/>
<line x1="351.28" y1="409.3" x2="351.28" y2="415.5"/>
<line x1="429.8" y1="75.2" x2="429.8" y2="83"/>
<line x1="431.64" y1="409.3" x2="431.64" y2="415.5"/>
<line x1="510" y1="75.2" x2="510" y2="83"/>
<line x1="512" y1="409.3" x2="512" y2="415.5"/>
<line x1="43.6" y1="124.6" x2="51.6" y2="124.6"/>
<line x1="554.9" y1="125.2" x2="563.9" y2="125.2"/>
<line x1="43.6" y1="204.9" x2="51.6" y2="204.9"/>
<line x1="554.9" y1="205.5" x2="563.9" y2="205.5"/>
<line x1="43.6" y1="285.2" x2="51.6" y2="285.2"/>
<line x1="554.9" y1="285.8" x2="563.9" y2="285.8"/>
<line x1="43.6" y1="365.5" x2="51.6" y2="365.5"/>
<line x1="554.9" y1="366.1" x2="563.9" y2="366.1"/>
</g>
<g font-family='"Liberation Serif", serif' font-weight="bold" font-size="17" fill="#282828" text-anchor="middle">
<text x="108.3" y="76.3">80° E</text>
<text x="110" y="426.4">80° E</text>
<text x="188.5" y="76.3">90° E</text>
<text x="190.36" y="426.4">90° E</text>
<text x="269.8" y="76.3">100° E</text>
<text x="271.52" y="426.4">100° E</text>
<text x="350" y="76.3">110° E</text>
<text x="351.88" y="426.4">110° E</text>
<text x="430.2" y="76.3">120° E</text>
<text x="432.24" y="426.4">120° E</text>
<text x="510.4" y="76.3">130° E</text>
<text x="512.6" y="426.4">130° E</text>
<text transform="translate(44.1,117.5) rotate(-90)">50° N</text>
<text transform="translate(574,118) rotate(-90)">50° N</text>
<text transform="translate(44.1,197.8) rotate(-90)">40° N</text>
<text transform="translate(574,198.3) rotate(-90)">40° N</text>
<text transform="translate(44.1,278.1) rotate(-90)">30° N</text>
<text transform="translate(574,278.6) rotate(-90)">30° N</text>
<text transform="translate(44.1,358.4) rotate(-90)">20° N</text>
<text transform="translate(574,358.9) rotate(-90)">20° N</text>
</g>
<g font-family='"Liberation Serif", serif' font-weight="bold" font-size="16.5" fill="#111" text-anchor="middle">
<text x="199.5" y="205.5">R1</text>
<text x="429.5" y="179.5">R2</text>
<text x="172" y="270.5">R3</text>
<text x="345" y="309.5">R4</text>
<text x="383" y="240">R6</text>
<text x="504" y="168.5">R7</text>
<text x="457" y="124">R8</text>
</g>
<g stroke="#222" stroke-width="1.1" fill="none"><path d="M62.4 400.4H160.4"/>
<line x1="62.4" y1="397.3" x2="62.4" y2="403.4"/>
<line x1="74.6" y1="397.3" x2="74.6" y2="402.6"/>
<line x1="86.6" y1="397.3" x2="86.6" y2="402.6"/>
<line x1="98.6" y1="397.3" x2="98.6" y2="402.6"/>
<line x1="110.6" y1="397.3" x2="110.6" y2="403.4"/>
<line x1="135.3" y1="397.3" x2="135.3" y2="402.6"/>
<line x1="147.8" y1="397.3" x2="147.8" y2="402.6"/>
<line x1="160.4" y1="397.3" x2="160.4" y2="403.4"/>
</g>
<g font-family='"Liberation Serif", serif' font-weight="bold" font-size="14.6" fill="#222">
<text x="66.6" y="397.2" text-anchor="middle">0</text><text x="112.9" y="397.2" text-anchor="middle">500</text><text x="149.6" y="397.2">1000 km</text></g>
<path d="M534.2 102.6 L546.4 136.8 L534.2 129.2 L522.5 136.8Z" fill="#000"/>
<text x="534.3" y="95.6" font-family='"Liberation Serif", serif' font-size="12.5" fill="#666" text-anchor="middle">N</text>
</g>
<g transform="translate(0,866.7)" clip-path="url(#mapclip)">
<text x="324.3" y="357.6" font-family='"Liberation Serif", serif' font-weight="bold" font-size="16.5" fill="#111" text-anchor="middle">R</text>
<use href="#cnshape" fill="#72c6f1"/>
<g clip-path="url(#cn)">
<g filter="url(#speck)"><rect x="40" y="90" width="530" height="310" fill="#fff" fill-opacity="0.02"/><use href="#ble"/></g>
<g filter="url(#speck2)"><rect x="40" y="90" width="530" height="310" fill="#fff" fill-opacity="0.02"/><use href="#ble"/></g>
<ellipse cx="226.5" cy="305.3" rx="9.5" ry="3.3" transform="rotate(-27 226.5 305.3)" fill="#f2c06e" opacity="0.75" filter="url(#blur1)"/>
<g filter="url(#speckw)"><rect x="40" y="90" width="530" height="310" fill="#fff" fill-opacity="0.02"/><use href="#blw"/></g>
<use href="#whites"/>
</g>
<use href="#cnlines"/>
<g fill="#000"><circle cx="403.9" cy="235.4" r="1"/><circle cx="439.6" cy="217.2" r="1.6"/><circle cx="437.5" cy="218.2" r="1"/><circle cx="375" cy="373.5" r="0.9"/><circle cx="381.5" cy="376" r="0.9"/><circle cx="404.5" cy="399.1" r="0.8"/><circle cx="413" cy="408.3" r="0.8"/><circle cx="443.3" cy="353.5" r="0.9"/><circle cx="442.6" cy="348" r="0.6"/><circle cx="426.7" cy="342.5" r="1.1"/><circle cx="428.3" cy="340.5" r="0.8"/><circle cx="461.5" cy="321" r="0.9"/><circle cx="469" cy="320.6" r="0.6"/><circle cx="361.6" cy="370.3" r="0.8"/><circle cx="363" cy="393" r="0.8"/><circle cx="369" cy="394.5" r="0.8"/><circle cx="364.5" cy="398.5" r="1"/><circle cx="366.5" cy="400.2" r="0.8"/><circle cx="370.5" cy="398.5" r="0.9"/><circle cx="372" cy="396.5" r="0.7"/><circle cx="368.5" cy="402.5" r="0.7"/><circle cx="361" cy="403.5" r="0.7"/><circle cx="371.5" cy="401" r="0.8"/><circle cx="367" cy="397" r="0.6"/></g>
<ellipse cx="385.4" cy="403.4" rx="4.6" ry="2" transform="rotate(-24 385.4 403.4)" fill="#fff" stroke="#000" stroke-width="1.2"/>
<path d="M432.6 345.6L444 344.8" stroke="#000" stroke-width="0.8" fill="none"/>
<g clip-path="url(#insetclip)">
<path d="M469.7 297.7 L537.4 297.7 L534.5 302.6 L529.7 306.4 L523.9 310.3 L518.0 313.7 L510.3 316.6 L502.6 319.0 L496.8 320.0 L493.4 321.2 L489.0 321.2 L484.2 319.5 L477.4 318.1 L474.5 315.2 L469.7 312.7Z" fill="#72c6f1"/>
<g fill="none" stroke="#000" stroke-width="0.9">
<path d="M496.3 298.7 L497.2 305.5 L498.7 308.4 L496.8 313.2 L491.9 319.0"/>
<path d="M498.7 308.4 L505.5 305.5 L512.2 306.0 L518.0 306.9 L521.9 309.3 L524.3 310.1"/>
<path d="M510.3 298.7 L512.2 303.5 L516.1 304.5 L518.5 298.7"/>
<path d="M470.4 306.4 L476.4 302.6 L483.2 301.6 L489.0 298.7"/>
<path d="M525.8 298.7 L527.7 302.6 L530.6 305.5"/>
</g>
<path d="M537.4 297.7 L537.2 299.8 L536.1 301.3 L534.5 302.6 L533.0 304.0 L531.1 304.9 L529.7 306.4 L528.1 308.3 L526.2 309.6 L523.9 310.3 L522.2 311.9 L519.8 312.2 L518.0 313.7 L516.3 315.0 L514.0 314.7 L512.1 315.6 L510.3 316.6 L508.6 317.8 L506.4 317.8 L504.5 318.5 L502.6 319.0 L500.7 319.5 L498.6 318.8 L496.8 320.0 L493.4 321.2 L491.2 321.9 L489.0 321.2 L486.3 321.1 L484.2 319.5 L482.1 318.3 L479.6 318.7 L477.4 318.1 L475.6 317.0 L474.5 315.2 L472.8 314.6 L471.2 313.8 L469.7 312.7" fill="none" stroke="#000" stroke-width="2.8" stroke-linejoin="round"/>
<path d="M488.1 321.0 L493.4 321.0 L493.9 327.2 L490.0 327.2Z" fill="#000" stroke="#000" stroke-width="2"/>
<ellipse cx="489.3" cy="331.4" rx="5.8" ry="3.7" transform="rotate(-22 489.3 331.4)" fill="#72c6f1" stroke="#000" stroke-width="1.4"/>
<path d="M545.6 301.1 L541.8 302.4 L538.6 307.4 L537.4 312.7 L540.1 316.9 L543.0 314.7 L545.3 309.3 L546.6 304.5Z" fill="#72c6f1" stroke="#000" stroke-width="1.6" stroke-linejoin="round"/>
<path d="M534.5 310.8 L537.4 311.8" fill="none" stroke="#000" stroke-width="2.4"/>
<g stroke="#000" stroke-width="1.7" stroke-linecap="round">
<line x1="549.0" y1="306.4" x2="548.0" y2="310.8"/>
<line x1="555.3" y1="299.2" x2="553.1" y2="300.6"/>
<line x1="545.1" y1="319.0" x2="542.2" y2="323.4"/>
<line x1="536.9" y1="331.6" x2="534.0" y2="337.4"/>
<line x1="532.1" y1="345.6" x2="532.1" y2="351.0"/>
<line x1="532.1" y1="364.5" x2="530.1" y2="369.8"/>
<line x1="519.5" y1="382.9" x2="515.6" y2="387.2"/>
<line x1="482.3" y1="386.7" x2="482.7" y2="392.6"/>
<line x1="491.4" y1="363.5" x2="490.5" y2="367.9"/>
<line x1="487.1" y1="344.7" x2="490.0" y2="349.5"/>
<line x1="541.3" y1="317.6" x2="544.2" y2="319.0"/>
<line x1="502.6" y1="392.6" x2="501.6" y2="395.0"/>
<line x1="505.5" y1="389.7" x2="504.5" y2="391.1"/>
<line x1="507.4" y1="384.3" x2="508.9" y2="381.4"/>
<line x1="505.5" y1="377.6" x2="512.2" y2="379.5"/>
<line x1="498.7" y1="379.5" x2="502.6" y2="377.6"/>
<line x1="504.0" y1="382.9" x2="506.0" y2="381.4"/>
<line x1="497.2" y1="385.8" x2="498.2" y2="383.4"/>
<line x1="510.3" y1="380.9" x2="514.2" y2="380.5"/>
</g>
<ellipse cx="510.3" cy="346.6" rx="3.4" ry="1.7" transform="rotate(-20 510.3 346.6)" fill="#000"/>
<ellipse cx="499.2" cy="343.4" rx="2.6" ry="1.8" transform="rotate(0 499.2 343.4)" fill="#000"/>
<ellipse cx="501.1" cy="344.7" rx="2" ry="1.4" transform="rotate(30 501.1 344.7)" fill="#000"/>
<ellipse cx="521.9" cy="324.1" rx="1.1" ry="1.1" transform="rotate(0 521.9 324.1)" fill="#000"/>
<ellipse cx="526.3" cy="350.0" rx="1.1" ry="1.1" transform="rotate(0 526.3 350.0)" fill="#000"/>
<ellipse cx="510.3" cy="369.3" rx="2.2" ry="3" transform="rotate(0 510.3 369.3)" fill="#000"/>
<ellipse cx="512.2" cy="372.2" rx="2" ry="2" transform="rotate(0 512.2 372.2)" fill="#000"/>
<ellipse cx="519.0" cy="373.2" rx="3.3" ry="3.3" transform="rotate(0 519.0 373.2)" fill="#000"/>
<ellipse cx="522.9" cy="370.8" rx="1.8" ry="1.4" transform="rotate(0 522.9 370.8)" fill="#000"/>
<ellipse cx="491.0" cy="383.4" rx="2.6" ry="1.6" transform="rotate(-30 491.0 383.4)" fill="#000"/>
<ellipse cx="501.1" cy="402.7" rx="2.8" ry="1.6" transform="rotate(-20 501.1 402.7)" fill="#000"/>
<ellipse cx="508.4" cy="373.2" rx="1.6" ry="1.2" transform="rotate(0 508.4 373.2)" fill="#000"/>
<ellipse cx="501.6" cy="394.0" rx="1" ry="1.4" transform="rotate(0 501.6 394.0)" fill="#000"/>
<ellipse cx="516.6" cy="375.1" rx="1.6" ry="1.6" transform="rotate(0 516.6 375.1)" fill="#000"/>
<ellipse cx="521.1" cy="376.6" rx="1.5" ry="1.2" transform="rotate(0 521.1 376.6)" fill="#000"/>
</g>
<rect x="470.5" y="298" width="86.4" height="111.3" fill="none" stroke="#111" stroke-width="1.3"/>
<rect x="51.6" y="83" width="505.3" height="326.3" fill="none" stroke="#222" stroke-width="1.1"/>
<path d="M51.1 83H557.4M51.1 409.3H557.4" fill="none" stroke="#262626" stroke-width="1.35"/>
<g stroke="#1a1a1a" stroke-width="1.2">
<line x1="109" y1="75.2" x2="109" y2="83"/>
<line x1="110.2" y1="409.3" x2="110.2" y2="415.5"/>
<line x1="189.2" y1="75.2" x2="189.2" y2="83"/>
<line x1="190.56" y1="409.3" x2="190.56" y2="415.5"/>
<line x1="269.4" y1="75.2" x2="269.4" y2="83"/>
<line x1="270.92" y1="409.3" x2="270.92" y2="415.5"/>
<line x1="349.6" y1="75.2" x2="349.6" y2="83"/>
<line x1="351.28" y1="409.3" x2="351.28" y2="415.5"/>
<line x1="429.8" y1="75.2" x2="429.8" y2="83"/>
<line x1="431.64" y1="409.3" x2="431.64" y2="415.5"/>
<line x1="510" y1="75.2" x2="510" y2="83"/>
<line x1="512" y1="409.3" x2="512" y2="415.5"/>
<line x1="43.6" y1="124.6" x2="51.6" y2="124.6"/>
<line x1="554.9" y1="125.2" x2="563.9" y2="125.2"/>
<line x1="43.6" y1="204.9" x2="51.6" y2="204.9"/>
<line x1="554.9" y1="205.5" x2="563.9" y2="205.5"/>
<line x1="43.6" y1="285.2" x2="51.6" y2="285.2"/>
<line x1="554.9" y1="285.8" x2="563.9" y2="285.8"/>
<line x1="43.6" y1="365.5" x2="51.6" y2="365.5"/>
<line x1="554.9" y1="366.1" x2="563.9" y2="366.1"/>
</g>
<g font-family='"Liberation Serif", serif' font-weight="bold" font-size="17" fill="#282828" text-anchor="middle">
<text x="108.3" y="76.3">80° E</text>
<text x="110" y="426.4">80° E</text>
<text x="188.5" y="76.3">90° E</text>
<text x="190.36" y="426.4">90° E</text>
<text x="269.8" y="76.3">100° E</text>
<text x="271.52" y="426.4">100° E</text>
<text x="350" y="76.3">110° E</text>
<text x="351.88" y="426.4">110° E</text>
<text x="430.2" y="76.3">120° E</text>
<text x="432.24" y="426.4">120° E</text>
<text x="510.4" y="76.3">130° E</text>
<text x="512.6" y="426.4">130° E</text>
<text transform="translate(44.1,117.5) rotate(-90)">50° N</text>
<text transform="translate(574,118) rotate(-90)">50° N</text>
<text transform="translate(44.1,197.8) rotate(-90)">40° N</text>
<text transform="translate(574,198.3) rotate(-90)">40° N</text>
<text transform="translate(44.1,278.1) rotate(-90)">30° N</text>
<text transform="translate(574,278.6) rotate(-90)">30° N</text>
<text transform="translate(44.1,358.4) rotate(-90)">20° N</text>
<text transform="translate(574,358.9) rotate(-90)">20° N</text>
</g>
<g font-family='"Liberation Serif", serif' font-weight="bold" font-size="16.5" fill="#111" text-anchor="middle">
<text x="199.5" y="205.5">R1</text>
<text x="429.5" y="179.5">R2</text>
<text x="172" y="270.5">R3</text>
<text x="345" y="309.5">R4</text>
<text x="383" y="240">R6</text>
<text x="504" y="168.5">R7</text>
<text x="457" y="124">R8</text>
</g>
<g stroke="#222" stroke-width="1.1" fill="none"><path d="M62.4 400.4H160.4"/>
<line x1="62.4" y1="397.3" x2="62.4" y2="403.4"/>
<line x1="74.6" y1="397.3" x2="74.6" y2="402.6"/>
<line x1="86.6" y1="397.3" x2="86.6" y2="402.6"/>
<line x1="98.6" y1="397.3" x2="98.6" y2="402.6"/>
<line x1="110.6" y1="397.3" x2="110.6" y2="403.4"/>
<line x1="135.3" y1="397.3" x2="135.3" y2="402.6"/>
<line x1="147.8" y1="397.3" x2="147.8" y2="402.6"/>
<line x1="160.4" y1="397.3" x2="160.4" y2="403.4"/>
</g>
<g font-family='"Liberation Serif", serif' font-weight="bold" font-size="14.6" fill="#222">
<text x="66.6" y="397.2" text-anchor="middle">0</text><text x="112.9" y="397.2" text-anchor="middle">500</text><text x="149.6" y="397.2">1000 km</text></g>
<path d="M534.2 102.6 L546.4 136.8 L534.2 129.2 L522.5 136.8Z" fill="#000"/>
<text x="534.3" y="95.6" font-family='"Liberation Serif", serif' font-size="12.5" fill="#666" text-anchor="middle">N</text>
</g>
<g>
<rect x="670" y="84.5" width="427.5" height="323" fill="none" stroke="#333" stroke-width="1.3"/>
<g stroke="#2e2e2e" stroke-width="1.1">
<line x1="696.75" y1="407.5" x2="696.75" y2="403"/>
<line x1="696.75" y1="84.5" x2="696.75" y2="89"/>
<line x1="750.18" y1="407.5" x2="750.18" y2="403"/>
<line x1="750.18" y1="84.5" x2="750.18" y2="89"/>
<line x1="803.61" y1="407.5" x2="803.61" y2="403"/>
<line x1="803.61" y1="84.5" x2="803.61" y2="89"/>
<line x1="857.04" y1="407.5" x2="857.04" y2="403"/>
<line x1="857.04" y1="84.5" x2="857.04" y2="89"/>
<line x1="910.47" y1="407.5" x2="910.47" y2="403"/>
<line x1="910.47" y1="84.5" x2="910.47" y2="89"/>
<line x1="963.90" y1="407.5" x2="963.90" y2="403"/>
<line x1="963.90" y1="84.5" x2="963.90" y2="89"/>
<line x1="1017.33" y1="407.5" x2="1017.33" y2="403"/>
<line x1="1017.33" y1="84.5" x2="1017.33" y2="89"/>
<line x1="1070.76" y1="407.5" x2="1070.76" y2="403"/>
<line x1="1070.76" y1="84.5" x2="1070.76" y2="89"/>
<line x1="670" y1="392.50" x2="674.8" y2="392.50"/>
<line x1="1097.5" y1="392.50" x2="1092.7" y2="392.50"/>
<line x1="670" y1="348.50" x2="674.8" y2="348.50"/>
<line x1="1097.5" y1="348.50" x2="1092.7" y2="348.50"/>
<line x1="670" y1="304.50" x2="674.8" y2="304.50"/>
<line x1="1097.5" y1="304.50" x2="1092.7" y2="304.50"/>
<line x1="670" y1="260.50" x2="674.8" y2="260.50"/>
<line x1="1097.5" y1="260.50" x2="1092.7" y2="260.50"/>
<line x1="670" y1="216.50" x2="674.8" y2="216.50"/>
<line x1="1097.5" y1="216.50" x2="1092.7" y2="216.50"/>
<line x1="670" y1="172.50" x2="674.8" y2="172.50"/>
<line x1="1097.5" y1="172.50" x2="1092.7" y2="172.50"/>
<line x1="670" y1="128.50" x2="674.8" y2="128.50"/>
<line x1="1097.5" y1="128.50" x2="1092.7" y2="128.50"/>
</g>
<g font-family='"Liberation Serif", serif' font-weight="bold" font-size="17.3" fill="#282828">
<text x="664.5" y="398.60" text-anchor="end">0</text>
<text x="664.5" y="354.60" text-anchor="end">10</text>
<text x="664.5" y="310.60" text-anchor="end">20</text>
<text x="664.5" y="266.60" text-anchor="end">30</text>
<text x="664.5" y="222.60" text-anchor="end">40</text>
<text x="664.5" y="178.60" text-anchor="end">50</text>
<text x="664.5" y="134.60" text-anchor="end">60</text>
<text x="696.75" y="428.7" text-anchor="middle">R1</text>
<text x="750.18" y="428.7" text-anchor="middle">R2</text>
<text x="803.61" y="428.7" text-anchor="middle">R3</text>
<text x="857.04" y="428.7" text-anchor="middle">R4</text>
<text x="910.47" y="428.7" text-anchor="middle">R5</text>
<text x="963.90" y="428.7" text-anchor="middle">R6</text>
<text x="1017.33" y="428.7" text-anchor="middle">R7</text>
<text x="1070.76" y="428.7" text-anchor="middle">R8</text>
</g>
<text x="884" y="450.7" font-family='"Liberation Serif", serif' font-weight="bold" font-size="19.5" fill="#282828" text-anchor="middle">Region number</text>
<text transform="translate(640,246) rotate(-90)" font-family='"Liberation Serif", serif' font-weight="bold" font-size="19.5" fill="#282828" text-anchor="middle">Conditional probability of ENAG (%)</text>
<rect x="694.50" y="188.78" width="4.5" height="115.72" fill="#ee0505"/>
<rect x="696.05" y="186.28" width="1.4" height="4" fill="#ee0000"/>
<path d="M694.35 186.14h4.8M696.75 183.74v4.8" stroke="#e81414" stroke-width="1.45" fill="none"/>
<path d="M694.35 182.62h4.8M696.75 180.22v4.8" stroke="#e81414" stroke-width="1.45" fill="none"/>
<path d="M694.35 178.66h4.8M696.75 176.26v4.8" stroke="#e81414" stroke-width="1.45" fill="none"/>
<path d="M694.35 174.70h4.8M696.75 172.30v4.8" stroke="#e81414" stroke-width="1.45" fill="none"/>
<path d="M694.35 168.54h4.8M696.75 166.14v4.8" stroke="#e81414" stroke-width="1.45" fill="none"/>
<path d="M694.35 166.34h4.8M696.75 163.94v4.8" stroke="#e81414" stroke-width="1.45" fill="none"/>
<path d="M694.35 160.62h4.8M696.75 158.22v4.8" stroke="#e81414" stroke-width="1.45" fill="none"/>
<path d="M694.35 156.22h4.8M696.75 153.82v4.8" stroke="#e81414" stroke-width="1.45" fill="none"/>
<path d="M694.35 146.10h4.8M696.75 143.70v4.8" stroke="#e81414" stroke-width="1.45" fill="none"/>
<path d="M694.35 143.90h4.8M696.75 141.50v4.8" stroke="#e81414" stroke-width="1.45" fill="none"/>
<path d="M694.35 129.38h4.8M696.75 126.98v4.8" stroke="#e81414" stroke-width="1.45" fill="none"/>
<path d="M696.75 355.19V304.50M696.75 389.24V392.50" stroke="#111" stroke-width="1.1" stroke-dasharray="5.5 4.2" fill="none"/>
<path d="M690.55 304.50h12.4M690.55 392.50h12.4" stroke="#111" stroke-width="1.2" fill="none"/>
<rect x="683.45" y="355.19" width="26.6" height="34.06" fill="none" stroke="#1a1ab8" stroke-width="1.55"/>
<line x1="683.45" y1="377.23" x2="710.05" y2="377.23" stroke="#d92626" stroke-width="1.4"/>
<rect x="747.93" y="148.74" width="4.5" height="94.16" fill="#ee0505"/>
<rect x="749.48" y="146.24" width="1.4" height="4" fill="#ee0000"/>
<path d="M747.78 143.02h4.8M750.18 140.62v4.8" stroke="#e81414" stroke-width="1.45" fill="none"/>
<path d="M747.78 133.78h4.8M750.18 131.38v4.8" stroke="#e81414" stroke-width="1.45" fill="none"/>
<path d="M747.78 130.26h4.8M750.18 127.86v4.8" stroke="#e81414" stroke-width="1.45" fill="none"/>
<path d="M747.78 126.74h4.8M750.18 124.34v4.8" stroke="#e81414" stroke-width="1.45" fill="none"/>
<path d="M750.18 305.82V242.90M750.18 348.06V392.50" stroke="#111" stroke-width="1.1" stroke-dasharray="5.5 4.2" fill="none"/>
<path d="M743.98 242.90h12.4M743.98 392.50h12.4" stroke="#111" stroke-width="1.2" fill="none"/>
<rect x="736.88" y="305.82" width="26.6" height="42.24" fill="none" stroke="#1a1ab8" stroke-width="1.55"/>
<line x1="736.88" y1="328.26" x2="763.48" y2="328.26" stroke="#d92626" stroke-width="1.4"/>
<rect x="801.36" y="219.14" width="4.5" height="94.16" fill="#ee0505"/>
<rect x="802.91" y="216.64" width="1.4" height="4" fill="#ee0000"/>
<path d="M801.21 216.94h4.8M803.61 214.54v4.8" stroke="#e81414" stroke-width="1.45" fill="none"/>
<path d="M801.21 214.74h4.8M803.61 212.34v4.8" stroke="#e81414" stroke-width="1.45" fill="none"/>
<path d="M801.21 212.54h4.8M803.61 210.14v4.8" stroke="#e81414" stroke-width="1.45" fill="none"/>
<path d="M801.21 210.78h4.8M803.61 208.38v4.8" stroke="#e81414" stroke-width="1.45" fill="none"/>
<path d="M801.21 208.58h4.8M803.61 206.18v4.8" stroke="#e81414" stroke-width="1.45" fill="none"/>
<path d="M801.21 206.82h4.8M803.61 204.42v4.8" stroke="#e81414" stroke-width="1.45" fill="none"/>
<path d="M801.21 205.06h4.8M803.61 202.66v4.8" stroke="#e81414" stroke-width="1.45" fill="none"/>
<path d="M801.21 203.30h4.8M803.61 200.90v4.8" stroke="#e81414" stroke-width="1.45" fill="none"/>
<path d="M801.21 197.58h4.8M803.61 195.18v4.8" stroke="#e81414" stroke-width="1.45" fill="none"/>
<path d="M801.21 193.62h4.8M803.61 191.22v4.8" stroke="#e81414" stroke-width="1.45" fill="none"/>
<path d="M801.21 191.42h4.8M803.61 189.02v4.8" stroke="#e81414" stroke-width="1.45" fill="none"/>
<path d="M801.21 186.14h4.8M803.61 183.74v4.8" stroke="#e81414" stroke-width="1.45" fill="none"/>
<path d="M801.21 182.62h4.8M803.61 180.22v4.8" stroke="#e81414" stroke-width="1.45" fill="none"/>
<path d="M801.21 179.98h4.8M803.61 177.58v4.8" stroke="#e81414" stroke-width="1.45" fill="none"/>
<path d="M801.21 176.46h4.8M803.61 174.06v4.8" stroke="#e81414" stroke-width="1.45" fill="none"/>
<path d="M801.21 165.02h4.8M803.61 162.62v4.8" stroke="#e81414" stroke-width="1.45" fill="none"/>
<path d="M801.21 158.42h4.8M803.61 156.02v4.8" stroke="#e81414" stroke-width="1.45" fill="none"/>
<path d="M801.21 133.78h4.8M803.61 131.38v4.8" stroke="#e81414" stroke-width="1.45" fill="none"/>
<path d="M803.61 358.18V313.30M803.61 388.23V392.50" stroke="#111" stroke-width="1.1" stroke-dasharray="5.5 4.2" fill="none"/>
<path d="M797.41 313.30h12.4M797.41 392.50h12.4" stroke="#111" stroke-width="1.2" fill="none"/>
<rect x="790.31" y="358.18" width="26.6" height="30.05" fill="none" stroke="#1a1ab8" stroke-width="1.55"/>
<line x1="790.31" y1="376.22" x2="816.91" y2="376.22" stroke="#d92626" stroke-width="1.4"/>
<rect x="854.79" y="129.82" width="4.5" height="98.56" fill="#ee0505"/>
<rect x="856.34" y="127.32" width="1.4" height="4" fill="#ee0000"/>
<path d="M854.64 126.30h4.8M857.04 123.90v4.8" stroke="#e81414" stroke-width="1.45" fill="none"/>
<path d="M854.64 122.34h4.8M857.04 119.94v4.8" stroke="#e81414" stroke-width="1.45" fill="none"/>
<path d="M854.64 118.82h4.8M857.04 116.42v4.8" stroke="#e81414" stroke-width="1.45" fill="none"/>
<path d="M854.64 116.18h4.8M857.04 113.78v4.8" stroke="#e81414" stroke-width="1.45" fill="none"/>
<path d="M854.64 111.34h4.8M857.04 108.94v4.8" stroke="#e81414" stroke-width="1.45" fill="none"/>
<path d="M854.64 108.70h4.8M857.04 106.30v4.8" stroke="#e81414" stroke-width="1.45" fill="none"/>
<path d="M854.64 99.02h4.8M857.04 96.62v4.8" stroke="#e81414" stroke-width="1.45" fill="none"/>
<path d="M857.04 306.70V228.38M857.04 359.19V392.50" stroke="#111" stroke-width="1.1" stroke-dasharray="5.5 4.2" fill="none"/>
<path d="M850.84 228.38h12.4M850.84 392.50h12.4" stroke="#111" stroke-width="1.2" fill="none"/>
<rect x="843.74" y="306.70" width="26.6" height="52.49" fill="none" stroke="#1a1ab8" stroke-width="1.55"/>
<line x1="843.74" y1="335.30" x2="870.34" y2="335.30" stroke="#d92626" stroke-width="1.4"/>
<rect x="908.22" y="187.90" width="4.5" height="21.56" fill="#ee0505"/>
<rect x="909.77" y="185.40" width="1.4" height="4" fill="#ee0000"/>
<path d="M908.07 186.14h4.8M910.47 183.74v4.8" stroke="#e81414" stroke-width="1.45" fill="none"/>
<path d="M908.07 183.94h4.8M910.47 181.54v4.8" stroke="#e81414" stroke-width="1.45" fill="none"/>
<path d="M908.07 181.74h4.8M910.47 179.34v4.8" stroke="#e81414" stroke-width="1.45" fill="none"/>
<path d="M908.07 179.98h4.8M910.47 177.58v4.8" stroke="#e81414" stroke-width="1.45" fill="none"/>
<path d="M908.07 177.78h4.8M910.47 175.38v4.8" stroke="#e81414" stroke-width="1.45" fill="none"/>
<path d="M908.07 176.02h4.8M910.47 173.62v4.8" stroke="#e81414" stroke-width="1.45" fill="none"/>
<path d="M908.07 173.82h4.8M910.47 171.42v4.8" stroke="#e81414" stroke-width="1.45" fill="none"/>
<path d="M908.07 171.62h4.8M910.47 169.22v4.8" stroke="#e81414" stroke-width="1.45" fill="none"/>
<path d="M908.07 169.86h4.8M910.47 167.46v4.8" stroke="#e81414" stroke-width="1.45" fill="none"/>
<path d="M908.07 167.66h4.8M910.47 165.26v4.8" stroke="#e81414" stroke-width="1.45" fill="none"/>
<path d="M908.07 165.46h4.8M910.47 163.06v4.8" stroke="#e81414" stroke-width="1.45" fill="none"/>
<path d="M908.07 163.26h4.8M910.47 160.86v4.8" stroke="#e81414" stroke-width="1.45" fill="none"/>
<path d="M908.07 161.50h4.8M910.47 159.10v4.8" stroke="#e81414" stroke-width="1.45" fill="none"/>
<path d="M908.07 159.30h4.8M910.47 156.90v4.8" stroke="#e81414" stroke-width="1.45" fill="none"/>
<path d="M908.07 157.10h4.8M910.47 154.70v4.8" stroke="#e81414" stroke-width="1.45" fill="none"/>
<path d="M908.07 154.90h4.8M910.47 152.50v4.8" stroke="#e81414" stroke-width="1.45" fill="none"/>
<path d="M908.07 150.06h4.8M910.47 147.66v4.8" stroke="#e81414" stroke-width="1.45" fill="none"/>
<path d="M908.07 146.10h4.8M910.47 143.70v4.8" stroke="#e81414" stroke-width="1.45" fill="none"/>
<path d="M908.07 144.34h4.8M910.47 141.94v4.8" stroke="#e81414" stroke-width="1.45" fill="none"/>
<path d="M908.07 125.42h4.8M910.47 123.02v4.8" stroke="#e81414" stroke-width="1.45" fill="none"/>
<path d="M908.07 122.34h4.8M910.47 119.94v4.8" stroke="#e81414" stroke-width="1.45" fill="none"/>
<path d="M910.47 303.40V209.46M910.47 366.23V392.50" stroke="#111" stroke-width="1.1" stroke-dasharray="5.5 4.2" fill="none"/>
<path d="M904.27 209.46h12.4M904.27 392.50h12.4" stroke="#111" stroke-width="1.2" fill="none"/>
<rect x="897.17" y="303.40" width="26.6" height="62.83" fill="none" stroke="#1a1ab8" stroke-width="1.55"/>
<line x1="897.17" y1="338.82" x2="923.77" y2="338.82" stroke="#d92626" stroke-width="1.4"/>
<rect x="961.65" y="177.34" width="4.5" height="73.26" fill="#ee0505"/>
<rect x="963.20" y="174.84" width="1.4" height="4" fill="#ee0000"/>
<path d="M961.50 173.82h4.8M963.90 171.42v4.8" stroke="#e81414" stroke-width="1.45" fill="none"/>
<path d="M961.50 169.86h4.8M963.90 167.46v4.8" stroke="#e81414" stroke-width="1.45" fill="none"/>
<path d="M961.50 166.34h4.8M963.90 163.94v4.8" stroke="#e81414" stroke-width="1.45" fill="none"/>
<path d="M961.50 162.38h4.8M963.90 159.98v4.8" stroke="#e81414" stroke-width="1.45" fill="none"/>
<path d="M961.50 158.86h4.8M963.90 156.46v4.8" stroke="#e81414" stroke-width="1.45" fill="none"/>
<path d="M961.50 154.90h4.8M963.90 152.50v4.8" stroke="#e81414" stroke-width="1.45" fill="none"/>
<path d="M961.50 146.98h4.8M963.90 144.58v4.8" stroke="#e81414" stroke-width="1.45" fill="none"/>
<path d="M963.90 311.10V250.60M963.90 351.45V392.50" stroke="#111" stroke-width="1.1" stroke-dasharray="5.5 4.2" fill="none"/>
<path d="M957.70 250.60h12.4M957.70 392.50h12.4" stroke="#111" stroke-width="1.2" fill="none"/>
<rect x="950.60" y="311.10" width="26.6" height="40.35" fill="none" stroke="#1a1ab8" stroke-width="1.55"/>
<line x1="950.60" y1="332.66" x2="977.20" y2="332.66" stroke="#d92626" stroke-width="1.4"/>
<rect x="1015.08" y="204.18" width="4.5" height="69.52" fill="#ee0505"/>
<rect x="1016.63" y="201.68" width="1.4" height="4" fill="#ee0000"/>
<path d="M1014.93 201.98h4.8M1017.33 199.58v4.8" stroke="#e81414" stroke-width="1.45" fill="none"/>
<path d="M1014.93 199.78h4.8M1017.33 197.38v4.8" stroke="#e81414" stroke-width="1.45" fill="none"/>
<path d="M1014.93 198.02h4.8M1017.33 195.62v4.8" stroke="#e81414" stroke-width="1.45" fill="none"/>
<path d="M1014.93 195.82h4.8M1017.33 193.42v4.8" stroke="#e81414" stroke-width="1.45" fill="none"/>
<path d="M1014.93 193.62h4.8M1017.33 191.22v4.8" stroke="#e81414" stroke-width="1.45" fill="none"/>
<path d="M1014.93 191.86h4.8M1017.33 189.46v4.8" stroke="#e81414" stroke-width="1.45" fill="none"/>
<path d="M1014.93 189.66h4.8M1017.33 187.26v4.8" stroke="#e81414" stroke-width="1.45" fill="none"/>
<path d="M1014.93 187.46h4.8M1017.33 185.06v4.8" stroke="#e81414" stroke-width="1.45" fill="none"/>
<path d="M1014.93 185.70h4.8M1017.33 183.30v4.8" stroke="#e81414" stroke-width="1.45" fill="none"/>
<path d="M1014.93 183.50h4.8M1017.33 181.10v4.8" stroke="#e81414" stroke-width="1.45" fill="none"/>
<path d="M1014.93 181.30h4.8M1017.33 178.90v4.8" stroke="#e81414" stroke-width="1.45" fill="none"/>
<path d="M1014.93 179.54h4.8M1017.33 177.14v4.8" stroke="#e81414" stroke-width="1.45" fill="none"/>
<path d="M1014.93 177.34h4.8M1017.33 174.94v4.8" stroke="#e81414" stroke-width="1.45" fill="none"/>
<path d="M1014.93 175.14h4.8M1017.33 172.74v4.8" stroke="#e81414" stroke-width="1.45" fill="none"/>
<path d="M1014.93 172.94h4.8M1017.33 170.54v4.8" stroke="#e81414" stroke-width="1.45" fill="none"/>
<path d="M1014.93 170.74h4.8M1017.33 168.34v4.8" stroke="#e81414" stroke-width="1.45" fill="none"/>
<path d="M1014.93 167.66h4.8M1017.33 165.26v4.8" stroke="#e81414" stroke-width="1.45" fill="none"/>
<path d="M1014.93 160.62h4.8M1017.33 158.22v4.8" stroke="#e81414" stroke-width="1.45" fill="none"/>
<path d="M1014.93 158.42h4.8M1017.33 156.02v4.8" stroke="#e81414" stroke-width="1.45" fill="none"/>
<path d="M1017.33 328.92V273.70M1017.33 365.48V391.49" stroke="#111" stroke-width="1.1" stroke-dasharray="5.5 4.2" fill="none"/>
<path d="M1011.13 273.70h12.4M1011.13 391.49h12.4" stroke="#111" stroke-width="1.2" fill="none"/>
<rect x="1004.03" y="328.92" width="26.6" height="36.56" fill="none" stroke="#1a1ab8" stroke-width="1.55"/>
<line x1="1004.03" y1="348.50" x2="1030.63" y2="348.50" stroke="#d92626" stroke-width="1.4"/>
<rect x="1068.51" y="162.38" width="4.5" height="102.74" fill="#ee0505"/>
<rect x="1070.06" y="159.88" width="1.4" height="4" fill="#ee0000"/>
<path d="M1068.36 152.26h4.8M1070.76 149.86v4.8" stroke="#e81414" stroke-width="1.45" fill="none"/>
<path d="M1068.36 150.06h4.8M1070.76 147.66v4.8" stroke="#e81414" stroke-width="1.45" fill="none"/>
<path d="M1068.36 132.46h4.8M1070.76 130.06v4.8" stroke="#e81414" stroke-width="1.45" fill="none"/>
<path d="M1070.76 321.66V265.12M1070.76 359.50V390.74" stroke="#111" stroke-width="1.1" stroke-dasharray="5.5 4.2" fill="none"/>
<path d="M1064.56 265.12h12.4M1064.56 390.74h12.4" stroke="#111" stroke-width="1.2" fill="none"/>
<rect x="1057.46" y="321.66" width="26.6" height="37.84" fill="none" stroke="#1a1ab8" stroke-width="1.55"/>
<line x1="1057.46" y1="341.68" x2="1084.06" y2="341.68" stroke="#d92626" stroke-width="1.4"/>
</g>
<g>
<rect x="670" y="512.5" width="427.5" height="323" fill="none" stroke="#333" stroke-width="1.3"/>
<g stroke="#2e2e2e" stroke-width="1.1">
<line x1="696.75" y1="835.5" x2="696.75" y2="831"/>
<line x1="696.75" y1="512.5" x2="696.75" y2="517"/>
<line x1="750.18" y1="835.5" x2="750.18" y2="831"/>
<line x1="750.18" y1="512.5" x2="750.18" y2="517"/>
<line x1="803.61" y1="835.5" x2="803.61" y2="831"/>
<line x1="803.61" y1="512.5" x2="803.61" y2="517"/>
<line x1="857.04" y1="835.5" x2="857.04" y2="831"/>
<line x1="857.04" y1="512.5" x2="857.04" y2="517"/>
<line x1="910.47" y1="835.5" x2="910.47" y2="831"/>
<line x1="910.47" y1="512.5" x2="910.47" y2="517"/>
<line x1="963.90" y1="835.5" x2="963.90" y2="831"/>
<line x1="963.90" y1="512.5" x2="963.90" y2="517"/>
<line x1="1017.33" y1="835.5" x2="1017.33" y2="831"/>
<line x1="1017.33" y1="512.5" x2="1017.33" y2="517"/>
<line x1="1070.76" y1="835.5" x2="1070.76" y2="831"/>
<line x1="1070.76" y1="512.5" x2="1070.76" y2="517"/>
<line x1="670" y1="820.70" x2="674.8" y2="820.70"/>
<line x1="1097.5" y1="820.70" x2="1092.7" y2="820.70"/>
<line x1="670" y1="767.76" x2="674.8" y2="767.76"/>
<line x1="1097.5" y1="767.76" x2="1092.7" y2="767.76"/>
<line x1="670" y1="714.82" x2="674.8" y2="714.82"/>
<line x1="1097.5" y1="714.82" x2="1092.7" y2="714.82"/>
<line x1="670" y1="661.88" x2="674.8" y2="661.88"/>
<line x1="1097.5" y1="661.88" x2="1092.7" y2="661.88"/>
<line x1="670" y1="608.94" x2="674.8" y2="608.94"/>
<line x1="1097.5" y1="608.94" x2="1092.7" y2="608.94"/>
<line x1="670" y1="556.00" x2="674.8" y2="556.00"/>
<line x1="1097.5" y1="556.00" x2="1092.7" y2="556.00"/>
</g>
<g font-family='"Liberation Serif", serif' font-weight="bold" font-size="17.3" fill="#282828">
<text x="664.5" y="826.80" text-anchor="end">0</text>
<text x="664.5" y="773.86" text-anchor="end">10</text>
<text x="664.5" y="720.92" text-anchor="end">20</text>
<text x="664.5" y="667.98" text-anchor="end">30</text>
<text x="664.5" y="615.04" text-anchor="end">40</text>
<text x="664.5" y="562.10" text-anchor="end">50</text>
<text x="696.75" y="856.7" text-anchor="middle">R1</text>
<text x="750.18" y="856.7" text-anchor="middle">R2</text>
<text x="803.61" y="856.7" text-anchor="middle">R3</text>
<text x="857.04" y="856.7" text-anchor="middle">R4</text>
<text x="910.47" y="856.7" text-anchor="middle">R5</text>
<text x="963.90" y="856.7" text-anchor="middle">R6</text>
<text x="1017.33" y="856.7" text-anchor="middle">R7</text>
<text x="1070.76" y="856.7" text-anchor="middle">R8</text>
</g>
<text x="884" y="878.7" font-family='"Liberation Serif", serif' font-weight="bold" font-size="19.5" fill="#282828" text-anchor="middle">Region number</text>
<text transform="translate(640,674) rotate(-90)" font-family='"Liberation Serif", serif' font-weight="bold" font-size="19.5" fill="#282828" text-anchor="middle">Conditional probability of ENAG (%)</text>
<rect x="694.50" y="650.23" width="4.5" height="78.09" fill="#ee0505"/>
<rect x="696.05" y="647.73" width="1.4" height="4" fill="#ee0000"/>
<path d="M694.35 647.06h4.8M696.75 644.66v4.8" stroke="#e81414" stroke-width="1.45" fill="none"/>
<path d="M694.35 639.65h4.8M696.75 637.25v4.8" stroke="#e81414" stroke-width="1.45" fill="none"/>
<path d="M696.75 781.37V728.32M696.75 817.52V820.70" stroke="#111" stroke-width="1.1" stroke-dasharray="5.5 4.2" fill="none"/>
<path d="M690.55 728.32h12.4M690.55 820.70h12.4" stroke="#111" stroke-width="1.2" fill="none"/>
<rect x="683.45" y="781.37" width="26.6" height="36.16" fill="none" stroke="#1a1ab8" stroke-width="1.55"/>
<line x1="683.45" y1="802.91" x2="710.05" y2="802.91" stroke="#d92626" stroke-width="1.4"/>
<rect x="747.93" y="655.00" width="4.5" height="30.18" fill="#ee0505"/>
<rect x="749.48" y="652.50" width="1.4" height="4" fill="#ee0000"/>
<path d="M747.78 650.23h4.8M750.18 647.83v4.8" stroke="#e81414" stroke-width="1.45" fill="none"/>
<path d="M747.78 647.59h4.8M750.18 645.19v4.8" stroke="#e81414" stroke-width="1.45" fill="none"/>
<path d="M747.78 636.47h4.8M750.18 634.07v4.8" stroke="#e81414" stroke-width="1.45" fill="none"/>
<path d="M747.78 629.59h4.8M750.18 627.19v4.8" stroke="#e81414" stroke-width="1.45" fill="none"/>
<path d="M750.18 737.32V685.17M750.18 772.10V820.70" stroke="#111" stroke-width="1.1" stroke-dasharray="5.5 4.2" fill="none"/>
<path d="M743.98 685.17h12.4M743.98 820.70h12.4" stroke="#111" stroke-width="1.2" fill="none"/>
<rect x="736.88" y="737.32" width="26.6" height="34.78" fill="none" stroke="#1a1ab8" stroke-width="1.55"/>
<line x1="736.88" y1="754.58" x2="763.48" y2="754.58" stroke="#d92626" stroke-width="1.4"/>
<rect x="801.36" y="682.53" width="4.5" height="50.29" fill="#ee0505"/>
<rect x="802.91" y="680.03" width="1.4" height="4" fill="#ee0000"/>
<path d="M801.21 678.82h4.8M803.61 676.42v4.8" stroke="#e81414" stroke-width="1.45" fill="none"/>
<path d="M801.21 676.70h4.8M803.61 674.30v4.8" stroke="#e81414" stroke-width="1.45" fill="none"/>
<path d="M801.21 673.00h4.8M803.61 670.60v4.8" stroke="#e81414" stroke-width="1.45" fill="none"/>
<path d="M801.21 639.65h4.8M803.61 637.25v4.8" stroke="#e81414" stroke-width="1.45" fill="none"/>
<path d="M803.61 782.16V732.82M803.61 815.19V820.70" stroke="#111" stroke-width="1.1" stroke-dasharray="5.5 4.2" fill="none"/>
<path d="M797.41 732.82h12.4M797.41 820.70h12.4" stroke="#111" stroke-width="1.2" fill="none"/>
<rect x="790.31" y="782.16" width="26.6" height="33.03" fill="none" stroke="#1a1ab8" stroke-width="1.55"/>
<line x1="790.31" y1="800.90" x2="816.91" y2="800.90" stroke="#d92626" stroke-width="1.4"/>
<rect x="854.79" y="615.29" width="4.5" height="61.15" fill="#ee0505"/>
<rect x="856.34" y="612.79" width="1.4" height="4" fill="#ee0000"/>
<path d="M854.64 610.00h4.8M857.04 607.60v4.8" stroke="#e81414" stroke-width="1.45" fill="none"/>
<path d="M854.64 607.35h4.8M857.04 604.95v4.8" stroke="#e81414" stroke-width="1.45" fill="none"/>
<path d="M854.64 603.65h4.8M857.04 601.25v4.8" stroke="#e81414" stroke-width="1.45" fill="none"/>
<path d="M854.64 598.88h4.8M857.04 596.48v4.8" stroke="#e81414" stroke-width="1.45" fill="none"/>
<path d="M854.64 596.23h4.8M857.04 593.83v4.8" stroke="#e81414" stroke-width="1.45" fill="none"/>
<path d="M854.64 593.59h4.8M857.04 591.19v4.8" stroke="#e81414" stroke-width="1.45" fill="none"/>
<path d="M854.64 587.23h4.8M857.04 584.83v4.8" stroke="#e81414" stroke-width="1.45" fill="none"/>
<path d="M854.64 581.94h4.8M857.04 579.54v4.8" stroke="#e81414" stroke-width="1.45" fill="none"/>
<path d="M854.64 563.94h4.8M857.04 561.54v4.8" stroke="#e81414" stroke-width="1.45" fill="none"/>
<path d="M854.64 551.24h4.8M857.04 548.84v4.8" stroke="#e81414" stroke-width="1.45" fill="none"/>
<path d="M854.64 527.41h4.8M857.04 525.01v4.8" stroke="#e81414" stroke-width="1.45" fill="none"/>
<path d="M857.04 739.33V676.44M857.04 780.89V820.70" stroke="#111" stroke-width="1.1" stroke-dasharray="5.5 4.2" fill="none"/>
<path d="M850.84 676.44h12.4M850.84 820.70h12.4" stroke="#111" stroke-width="1.2" fill="none"/>
<rect x="843.74" y="739.33" width="26.6" height="41.56" fill="none" stroke="#1a1ab8" stroke-width="1.55"/>
<line x1="843.74" y1="760.61" x2="870.34" y2="760.61" stroke="#d92626" stroke-width="1.4"/>
<rect x="908.22" y="647.59" width="4.5" height="10.85" fill="#ee0505"/>
<rect x="909.77" y="645.09" width="1.4" height="4" fill="#ee0000"/>
<path d="M908.07 643.88h4.8M910.47 641.48v4.8" stroke="#e81414" stroke-width="1.45" fill="none"/>
<path d="M908.07 635.15h4.8M910.47 632.75v4.8" stroke="#e81414" stroke-width="1.45" fill="none"/>
<path d="M910.47 735.78V658.44M910.47 787.88V820.70" stroke="#111" stroke-width="1.1" stroke-dasharray="5.5 4.2" fill="none"/>
<path d="M904.27 658.44h12.4M904.27 820.70h12.4" stroke="#111" stroke-width="1.2" fill="none"/>
<rect x="897.17" y="735.78" width="26.6" height="52.09" fill="none" stroke="#1a1ab8" stroke-width="1.55"/>
<line x1="897.17" y1="762.62" x2="923.77" y2="762.62" stroke="#d92626" stroke-width="1.4"/>
<rect x="961.65" y="655.00" width="4.5" height="35.21" fill="#ee0505"/>
<rect x="963.20" y="652.50" width="1.4" height="4" fill="#ee0000"/>
<path d="M961.50 651.29h4.8M963.90 648.89v4.8" stroke="#e81414" stroke-width="1.45" fill="none"/>
<path d="M961.50 647.59h4.8M963.90 645.19v4.8" stroke="#e81414" stroke-width="1.45" fill="none"/>
<path d="M961.50 637.53h4.8M963.90 635.13v4.8" stroke="#e81414" stroke-width="1.45" fill="none"/>
<path d="M963.90 740.55V690.20M963.90 774.38V820.70" stroke="#111" stroke-width="1.1" stroke-dasharray="5.5 4.2" fill="none"/>
<path d="M957.70 690.20h12.4M957.70 820.70h12.4" stroke="#111" stroke-width="1.2" fill="none"/>
<rect x="950.60" y="740.55" width="26.6" height="33.83" fill="none" stroke="#1a1ab8" stroke-width="1.55"/>
<line x1="950.60" y1="757.17" x2="977.20" y2="757.17" stroke="#d92626" stroke-width="1.4"/>
<rect x="1015.08" y="680.41" width="4.5" height="26.10" fill="#ee0505"/>
<rect x="1016.63" y="677.91" width="1.4" height="4" fill="#ee0000"/>
<path d="M1014.93 672.20h4.8M1017.33 669.80v4.8" stroke="#e81414" stroke-width="1.45" fill="none"/>
<path d="M1014.93 668.76h4.8M1017.33 666.36v4.8" stroke="#e81414" stroke-width="1.45" fill="none"/>
<path d="M1014.93 652.35h4.8M1017.33 649.95v4.8" stroke="#e81414" stroke-width="1.45" fill="none"/>
<path d="M1014.93 649.70h4.8M1017.33 647.30v4.8" stroke="#e81414" stroke-width="1.45" fill="none"/>
<path d="M1017.33 754.53V706.51M1017.33 786.39V818.42" stroke="#111" stroke-width="1.1" stroke-dasharray="5.5 4.2" fill="none"/>
<path d="M1011.13 706.51h12.4M1011.13 818.42h12.4" stroke="#111" stroke-width="1.2" fill="none"/>
<rect x="1004.03" y="754.53" width="26.6" height="31.87" fill="none" stroke="#1a1ab8" stroke-width="1.55"/>
<line x1="1004.03" y1="771.10" x2="1030.63" y2="771.10" stroke="#d92626" stroke-width="1.4"/>
<rect x="1068.51" y="670.35" width="4.5" height="25.94" fill="#ee0505"/>
<rect x="1070.06" y="667.85" width="1.4" height="4" fill="#ee0000"/>
<path d="M1068.36 665.59h4.8M1070.76 663.19v4.8" stroke="#e81414" stroke-width="1.45" fill="none"/>
<path d="M1068.36 660.82h4.8M1070.76 658.42v4.8" stroke="#e81414" stroke-width="1.45" fill="none"/>
<path d="M1068.36 647.59h4.8M1070.76 645.19v4.8" stroke="#e81414" stroke-width="1.45" fill="none"/>
<path d="M1068.36 644.41h4.8M1070.76 642.01v4.8" stroke="#e81414" stroke-width="1.45" fill="none"/>
<path d="M1068.36 641.23h4.8M1070.76 638.83v4.8" stroke="#e81414" stroke-width="1.45" fill="none"/>
<path d="M1070.76 746.32V696.29M1070.76 780.15V817.52" stroke="#111" stroke-width="1.1" stroke-dasharray="5.5 4.2" fill="none"/>
<path d="M1064.56 696.29h12.4M1064.56 817.52h12.4" stroke="#111" stroke-width="1.2" fill="none"/>
<rect x="1057.46" y="746.32" width="26.6" height="33.83" fill="none" stroke="#1a1ab8" stroke-width="1.55"/>
<line x1="1057.46" y1="763.37" x2="1084.06" y2="763.37" stroke="#d92626" stroke-width="1.4"/>
</g>
<g>
<rect x="670" y="946.9" width="427.5" height="322.6" fill="none" stroke="#333" stroke-width="1.3"/>
<g stroke="#2e2e2e" stroke-width="1.1">
<line x1="696.75" y1="1269.5" x2="696.75" y2="1265"/>
<line x1="696.75" y1="946.9" x2="696.75" y2="951.4"/>
<line x1="750.18" y1="1269.5" x2="750.18" y2="1265"/>
<line x1="750.18" y1="946.9" x2="750.18" y2="951.4"/>
<line x1="803.61" y1="1269.5" x2="803.61" y2="1265"/>
<line x1="803.61" y1="946.9" x2="803.61" y2="951.4"/>
<line x1="857.04" y1="1269.5" x2="857.04" y2="1265"/>
<line x1="857.04" y1="946.9" x2="857.04" y2="951.4"/>
<line x1="910.47" y1="1269.5" x2="910.47" y2="1265"/>
<line x1="910.47" y1="946.9" x2="910.47" y2="951.4"/>
<line x1="963.90" y1="1269.5" x2="963.90" y2="1265"/>
<line x1="963.90" y1="946.9" x2="963.90" y2="951.4"/>
<line x1="1017.33" y1="1269.5" x2="1017.33" y2="1265"/>
<line x1="1017.33" y1="946.9" x2="1017.33" y2="951.4"/>
<line x1="1070.76" y1="1269.5" x2="1070.76" y2="1265"/>
<line x1="1070.76" y1="946.9" x2="1070.76" y2="951.4"/>
<line x1="670" y1="1254.80" x2="674.8" y2="1254.80"/>
<line x1="1097.5" y1="1254.80" x2="1092.7" y2="1254.80"/>
<line x1="670" y1="1193.34" x2="674.8" y2="1193.34"/>
<line x1="1097.5" y1="1193.34" x2="1092.7" y2="1193.34"/>
<line x1="670" y1="1131.88" x2="674.8" y2="1131.88"/>
<line x1="1097.5" y1="1131.88" x2="1092.7" y2="1131.88"/>
<line x1="670" y1="1070.42" x2="674.8" y2="1070.42"/>
<line x1="1097.5" y1="1070.42" x2="1092.7" y2="1070.42"/>
<line x1="670" y1="1008.96" x2="674.8" y2="1008.96"/>
<line x1="1097.5" y1="1008.96" x2="1092.7" y2="1008.96"/>
<line x1="670" y1="947.50" x2="674.8" y2="947.50"/>
<line x1="1097.5" y1="947.50" x2="1092.7" y2="947.50"/>
</g>
<g font-family='"Liberation Serif", serif' font-weight="bold" font-size="17.3" fill="#282828">
<text x="664.5" y="1260.90" text-anchor="end">0</text>
<text x="664.5" y="1199.44" text-anchor="end">10</text>
<text x="664.5" y="1137.98" text-anchor="end">20</text>
<text x="664.5" y="1076.52" text-anchor="end">30</text>
<text x="664.5" y="1015.06" text-anchor="end">40</text>
<text x="664.5" y="953.60" text-anchor="end">50</text>
<text x="696.75" y="1290.7" text-anchor="middle">R1</text>
<text x="750.18" y="1290.7" text-anchor="middle">R2</text>
<text x="803.61" y="1290.7" text-anchor="middle">R3</text>
<text x="857.04" y="1290.7" text-anchor="middle">R4</text>
<text x="910.47" y="1290.7" text-anchor="middle">R5</text>
<text x="963.90" y="1290.7" text-anchor="middle">R6</text>
<text x="1017.33" y="1290.7" text-anchor="middle">R7</text>
<text x="1070.76" y="1290.7" text-anchor="middle">R8</text>
</g>
<text x="884" y="1312.7" font-family='"Liberation Serif", serif' font-weight="bold" font-size="19.5" fill="#282828" text-anchor="middle">Region number</text>
<text transform="translate(640,1108.2) rotate(-90)" font-family='"Liberation Serif", serif' font-weight="bold" font-size="19.5" fill="#282828" text-anchor="middle">Conditional probability of ENAG (%)</text>
<rect x="694.50" y="1085.17" width="4.5" height="64.72" fill="#ee0505"/>
<rect x="696.05" y="1082.67" width="1.4" height="4" fill="#ee0000"/>
<path d="M694.35 1081.48h4.8M696.75 1079.08v4.8" stroke="#e81414" stroke-width="1.45" fill="none"/>
<path d="M694.35 1079.64h4.8M696.75 1077.24v4.8" stroke="#e81414" stroke-width="1.45" fill="none"/>
<path d="M694.35 1072.26h4.8M696.75 1069.86v4.8" stroke="#e81414" stroke-width="1.45" fill="none"/>
<path d="M694.35 1061.20h4.8M696.75 1058.80v4.8" stroke="#e81414" stroke-width="1.45" fill="none"/>
<path d="M696.75 1210.06V1149.89M696.75 1250.81V1254.80" stroke="#111" stroke-width="1.1" stroke-dasharray="5.5 4.2" fill="none"/>
<path d="M690.55 1149.89h12.4M690.55 1254.80h12.4" stroke="#111" stroke-width="1.2" fill="none"/>
<rect x="683.45" y="1210.06" width="26.6" height="40.75" fill="none" stroke="#1a1ab8" stroke-width="1.55"/>
<line x1="683.45" y1="1234.33" x2="710.05" y2="1234.33" stroke="#d92626" stroke-width="1.4"/>
<rect x="747.93" y="1095.62" width="4.5" height="12.91" fill="#ee0505"/>
<rect x="749.48" y="1093.12" width="1.4" height="4" fill="#ee0000"/>
<path d="M747.78 1093.16h4.8M750.18 1090.76v4.8" stroke="#e81414" stroke-width="1.45" fill="none"/>
<path d="M747.78 1090.70h4.8M750.18 1088.30v4.8" stroke="#e81414" stroke-width="1.45" fill="none"/>
<path d="M747.78 1087.63h4.8M750.18 1085.23v4.8" stroke="#e81414" stroke-width="1.45" fill="none"/>
<path d="M747.78 1083.94h4.8M750.18 1081.54v4.8" stroke="#e81414" stroke-width="1.45" fill="none"/>
<path d="M747.78 1080.25h4.8M750.18 1077.85v4.8" stroke="#e81414" stroke-width="1.45" fill="none"/>
<path d="M747.78 1075.34h4.8M750.18 1072.94v4.8" stroke="#e81414" stroke-width="1.45" fill="none"/>
<path d="M747.78 1055.05h4.8M750.18 1052.65v4.8" stroke="#e81414" stroke-width="1.45" fill="none"/>
<path d="M750.18 1163.84V1108.53M750.18 1200.35V1254.80" stroke="#111" stroke-width="1.1" stroke-dasharray="5.5 4.2" fill="none"/>
<path d="M743.98 1108.53h12.4M743.98 1254.80h12.4" stroke="#111" stroke-width="1.2" fill="none"/>
<rect x="736.88" y="1163.84" width="26.6" height="36.51" fill="none" stroke="#1a1ab8" stroke-width="1.55"/>
<line x1="736.88" y1="1181.36" x2="763.48" y2="1181.36" stroke="#d92626" stroke-width="1.4"/>
<rect x="801.36" y="1110.37" width="4.5" height="44.01" fill="#ee0505"/>
<rect x="802.91" y="1107.87" width="1.4" height="4" fill="#ee0000"/>
<path d="M801.21 1106.68h4.8M803.61 1104.28v4.8" stroke="#e81414" stroke-width="1.45" fill="none"/>
<path d="M801.21 1102.99h4.8M803.61 1100.59v4.8" stroke="#e81414" stroke-width="1.45" fill="none"/>
<path d="M801.21 1099.31h4.8M803.61 1096.91v4.8" stroke="#e81414" stroke-width="1.45" fill="none"/>
<path d="M801.21 1097.46h4.8M803.61 1095.06v4.8" stroke="#e81414" stroke-width="1.45" fill="none"/>
<path d="M803.61 1210.55V1154.37M803.61 1248.29V1254.80" stroke="#111" stroke-width="1.1" stroke-dasharray="5.5 4.2" fill="none"/>
<path d="M797.41 1154.37h12.4M797.41 1254.80h12.4" stroke="#111" stroke-width="1.2" fill="none"/>
<rect x="790.31" y="1210.55" width="26.6" height="37.74" fill="none" stroke="#1a1ab8" stroke-width="1.55"/>
<line x1="790.31" y1="1231.57" x2="816.91" y2="1231.57" stroke="#d92626" stroke-width="1.4"/>
<rect x="854.79" y="1063.04" width="4.5" height="38.11" fill="#ee0505"/>
<rect x="856.34" y="1060.54" width="1.4" height="4" fill="#ee0000"/>
<path d="M854.64 1059.36h4.8M857.04 1056.96v4.8" stroke="#e81414" stroke-width="1.45" fill="none"/>
<path d="M854.64 1055.67h4.8M857.04 1053.27v4.8" stroke="#e81414" stroke-width="1.45" fill="none"/>
<path d="M854.64 1047.68h4.8M857.04 1045.28v4.8" stroke="#e81414" stroke-width="1.45" fill="none"/>
<path d="M854.64 1042.76h4.8M857.04 1040.36v4.8" stroke="#e81414" stroke-width="1.45" fill="none"/>
<path d="M854.64 1040.30h4.8M857.04 1037.90v4.8" stroke="#e81414" stroke-width="1.45" fill="none"/>
<path d="M854.64 1035.39h4.8M857.04 1032.99v4.8" stroke="#e81414" stroke-width="1.45" fill="none"/>
<path d="M854.64 1032.31h4.8M857.04 1029.91v4.8" stroke="#e81414" stroke-width="1.45" fill="none"/>
<path d="M854.64 1029.86h4.8M857.04 1027.46v4.8" stroke="#e81414" stroke-width="1.45" fill="none"/>
<path d="M854.64 1005.27h4.8M857.04 1002.87v4.8" stroke="#e81414" stroke-width="1.45" fill="none"/>
<path d="M854.64 961.64h4.8M857.04 959.24v4.8" stroke="#e81414" stroke-width="1.45" fill="none"/>
<path d="M857.04 1165.87V1101.15M857.04 1209.32V1254.80" stroke="#111" stroke-width="1.1" stroke-dasharray="5.5 4.2" fill="none"/>
<path d="M850.84 1101.15h12.4M850.84 1254.80h12.4" stroke="#111" stroke-width="1.2" fill="none"/>
<rect x="843.74" y="1165.87" width="26.6" height="43.45" fill="none" stroke="#1a1ab8" stroke-width="1.55"/>
<line x1="843.74" y1="1187.81" x2="870.34" y2="1187.81" stroke="#d92626" stroke-width="1.4"/>
<path d="M908.07 1077.18h4.8M910.47 1074.78v4.8" stroke="#e81414" stroke-width="1.45" fill="none"/>
<path d="M908.07 1075.34h4.8M910.47 1072.94v4.8" stroke="#e81414" stroke-width="1.45" fill="none"/>
<path d="M908.07 1073.49h4.8M910.47 1071.09v4.8" stroke="#e81414" stroke-width="1.45" fill="none"/>
<path d="M908.07 1068.58h4.8M910.47 1066.18v4.8" stroke="#e81414" stroke-width="1.45" fill="none"/>
<path d="M908.07 1063.66h4.8M910.47 1061.26v4.8" stroke="#e81414" stroke-width="1.45" fill="none"/>
<path d="M910.47 1162.36V1083.94M910.47 1216.08V1254.80" stroke="#111" stroke-width="1.1" stroke-dasharray="5.5 4.2" fill="none"/>
<path d="M904.27 1083.94h12.4M904.27 1254.80h12.4" stroke="#111" stroke-width="1.2" fill="none"/>
<rect x="897.17" y="1162.36" width="26.6" height="53.72" fill="none" stroke="#1a1ab8" stroke-width="1.55"/>
<line x1="897.17" y1="1189.84" x2="923.77" y2="1189.84" stroke="#d92626" stroke-width="1.4"/>
<rect x="961.65" y="1086.40" width="4.5" height="27.23" fill="#ee0505"/>
<rect x="963.20" y="1083.90" width="1.4" height="4" fill="#ee0000"/>
<path d="M961.50 1081.48h4.8M963.90 1079.08v4.8" stroke="#e81414" stroke-width="1.45" fill="none"/>
<path d="M961.50 1079.64h4.8M963.90 1077.24v4.8" stroke="#e81414" stroke-width="1.45" fill="none"/>
<path d="M961.50 1074.72h4.8M963.90 1072.32v4.8" stroke="#e81414" stroke-width="1.45" fill="none"/>
<path d="M961.50 1072.88h4.8M963.90 1070.48v4.8" stroke="#e81414" stroke-width="1.45" fill="none"/>
<path d="M961.50 1063.04h4.8M963.90 1060.64v4.8" stroke="#e81414" stroke-width="1.45" fill="none"/>
<path d="M963.90 1166.30V1113.63M963.90 1201.58V1254.80" stroke="#111" stroke-width="1.1" stroke-dasharray="5.5 4.2" fill="none"/>
<path d="M957.70 1113.63h12.4M957.70 1254.80h12.4" stroke="#111" stroke-width="1.2" fill="none"/>
<rect x="950.60" y="1166.30" width="26.6" height="35.28" fill="none" stroke="#1a1ab8" stroke-width="1.55"/>
<line x1="950.60" y1="1184.61" x2="977.20" y2="1184.61" stroke="#d92626" stroke-width="1.4"/>
<rect x="1015.08" y="1103.61" width="4.5" height="25.20" fill="#ee0505"/>
<rect x="1016.63" y="1101.11" width="1.4" height="4" fill="#ee0000"/>
<path d="M1014.93 1094.70h4.8M1017.33 1092.30v4.8" stroke="#e81414" stroke-width="1.45" fill="none"/>
<path d="M1017.33 1180.43V1128.81M1017.33 1214.85V1251.30" stroke="#111" stroke-width="1.1" stroke-dasharray="5.5 4.2" fill="none"/>
<path d="M1011.13 1128.81h12.4M1011.13 1251.30h12.4" stroke="#111" stroke-width="1.2" fill="none"/>
<rect x="1004.03" y="1180.43" width="26.6" height="34.42" fill="none" stroke="#1a1ab8" stroke-width="1.55"/>
<line x1="1004.03" y1="1198.32" x2="1030.63" y2="1198.32" stroke="#d92626" stroke-width="1.4"/>
<rect x="1068.51" y="1100.54" width="4.5" height="19.85" fill="#ee0505"/>
<rect x="1070.06" y="1098.04" width="1.4" height="4" fill="#ee0000"/>
<path d="M1068.36 1088.86h4.8M1070.76 1086.46v4.8" stroke="#e81414" stroke-width="1.45" fill="none"/>
<path d="M1070.76 1172.44V1120.39M1070.76 1207.35V1249.58" stroke="#111" stroke-width="1.1" stroke-dasharray="5.5 4.2" fill="none"/>
<path d="M1064.56 1120.39h12.4M1064.56 1249.58h12.4" stroke="#111" stroke-width="1.2" fill="none"/>
<rect x="1057.46" y="1172.44" width="26.6" height="34.91" fill="none" stroke="#1a1ab8" stroke-width="1.55"/>
<line x1="1057.46" y1="1190.27" x2="1084.06" y2="1190.27" stroke="#d92626" stroke-width="1.4"/>
</g>
<g font-family='"Liberation Sans", sans-serif' fill="#111"><text x="44.6" y="47.5" font-size="23.5">(</text><text x="61.7" y="48.1" font-size="25" font-weight="bold" text-anchor="middle">a</text><text x="71" y="47.5" font-size="23.5">)</text></g><text x="83.3" y="48.1" font-family='"Liberation Serif", serif' font-size="28" fill="#111">Severe heat</text>
<g font-family='"Liberation Sans", sans-serif' fill="#111"><text x="651.8" y="48.7" font-size="23.5">(</text><text x="669.6" y="49.3" font-size="25" font-weight="bold" text-anchor="middle">b</text><text x="681.8" y="48.7" font-size="23.5">)</text></g><text x="692.6" y="49.3" font-family='"Liberation Serif", serif' font-size="28" fill="#111">Severe heat</text>
<g font-family='"Liberation Sans", sans-serif' fill="#111"><text x="46.9" y="476.4" font-size="23.5">(</text><text x="63.2" y="477" font-size="25" font-weight="normal" text-anchor="middle">c</text><text x="71.2" y="476.4" font-size="23.5">)</text></g><text x="83.6" y="477" font-family='"Liberation Serif", serif' font-size="28" fill="#111">Moderate heat</text>
<g font-family='"Liberation Sans", sans-serif' fill="#111"><text x="658.1" y="483.9" font-size="23.5">(</text><text x="675.7" y="484.5" font-size="25" font-weight="bold" text-anchor="middle">d</text><text x="686.1" y="483.9" font-size="23.5">)</text></g><text x="698.5" y="484.5" font-family='"Liberation Serif", serif' font-size="28" fill="#111">Moderate heat</text>
<g font-family='"Liberation Sans", sans-serif' fill="#111"><text x="46.1" y="908.1" font-size="23.5">(</text><text x="64.3" y="908.7" font-size="25" font-weight="normal" text-anchor="middle">e</text><text x="73.6" y="908.1" font-size="23.5">)</text></g><text x="85.6" y="908.7" font-family='"Liberation Serif", serif' font-size="28" fill="#111">Mild heat</text>
<g font-family='"Liberation Sans", sans-serif' fill="#111"><text x="659.3" y="915.1" font-size="23.5">(</text><text x="674.3" y="915.7" font-size="25" font-weight="bold" text-anchor="middle">f</text><text x="680.7" y="915.1" font-size="23.5">)</text></g><text x="693.6" y="915.7" font-family='"Liberation Serif", serif' font-size="28" fill="#111">Mild heat</text>
<text x="47.4" y="1337.8" font-family='"Liberation Serif", serif' font-size="20.3" fill="#111" textLength="169.8" lengthAdjust="spacing">ENAG probability</text>
<text x="226.6" y="1337.8" font-family='"Liberation Sans", sans-serif' font-weight="bold" font-size="20" fill="#111">/</text><text x="234.3" y="1337.8" font-family='"Liberation Sans", sans-serif' font-weight="bold" font-size="20" fill="#111">%</text><text x="260.2" y="1337.8" font-family='"Liberation Serif", serif' font-weight="bold" font-size="20" fill="#111">:</text>
<rect x="48" y="1359.3" width="40" height="22" fill="#72c6f1" stroke="#7a7a7a" stroke-width="1"/>
<text x="96.5" y="1379" font-family='"Liberation Serif", serif' font-weight="bold" font-size="22" letter-spacing="0.3" fill="#111">0 - 20</text>
<rect x="170" y="1359.3" width="40" height="22" fill="#f5ca7a" stroke="#7a7a7a" stroke-width="1"/>
<text x="218.5" y="1379" font-family='"Liberation Serif", serif' font-weight="bold" font-size="22" letter-spacing="0.3" fill="#111">20 - 40</text>
<rect x="311.8" y="1359.3" width="40" height="22" fill="#f2a27a" stroke="#7a7a7a" stroke-width="1"/>
<text x="360.3" y="1379" font-family='"Liberation Serif", serif' font-weight="bold" font-size="22" letter-spacing="0.3" fill="#111">40 - 60</text>
<rect x="453.6" y="1359.3" width="40" height="22" fill="#cd6466" stroke="#7a7a7a" stroke-width="1"/>
<text x="502.1" y="1379" font-family='"Liberation Serif", serif' font-weight="bold" font-size="22" letter-spacing="0.3" fill="#111"><tspan font-weight="normal">&gt;</tspan> 60</text>
<rect x="567.6" y="1359.3" width="40" height="22" fill="#fff" stroke="#7a7a7a" stroke-width="1"/>
<text x="620" y="1376.8" font-family='"Liberation Serif", serif' font-weight="bold" font-size="19.6" fill="#111">NoData</text>
</svg></body></html>
